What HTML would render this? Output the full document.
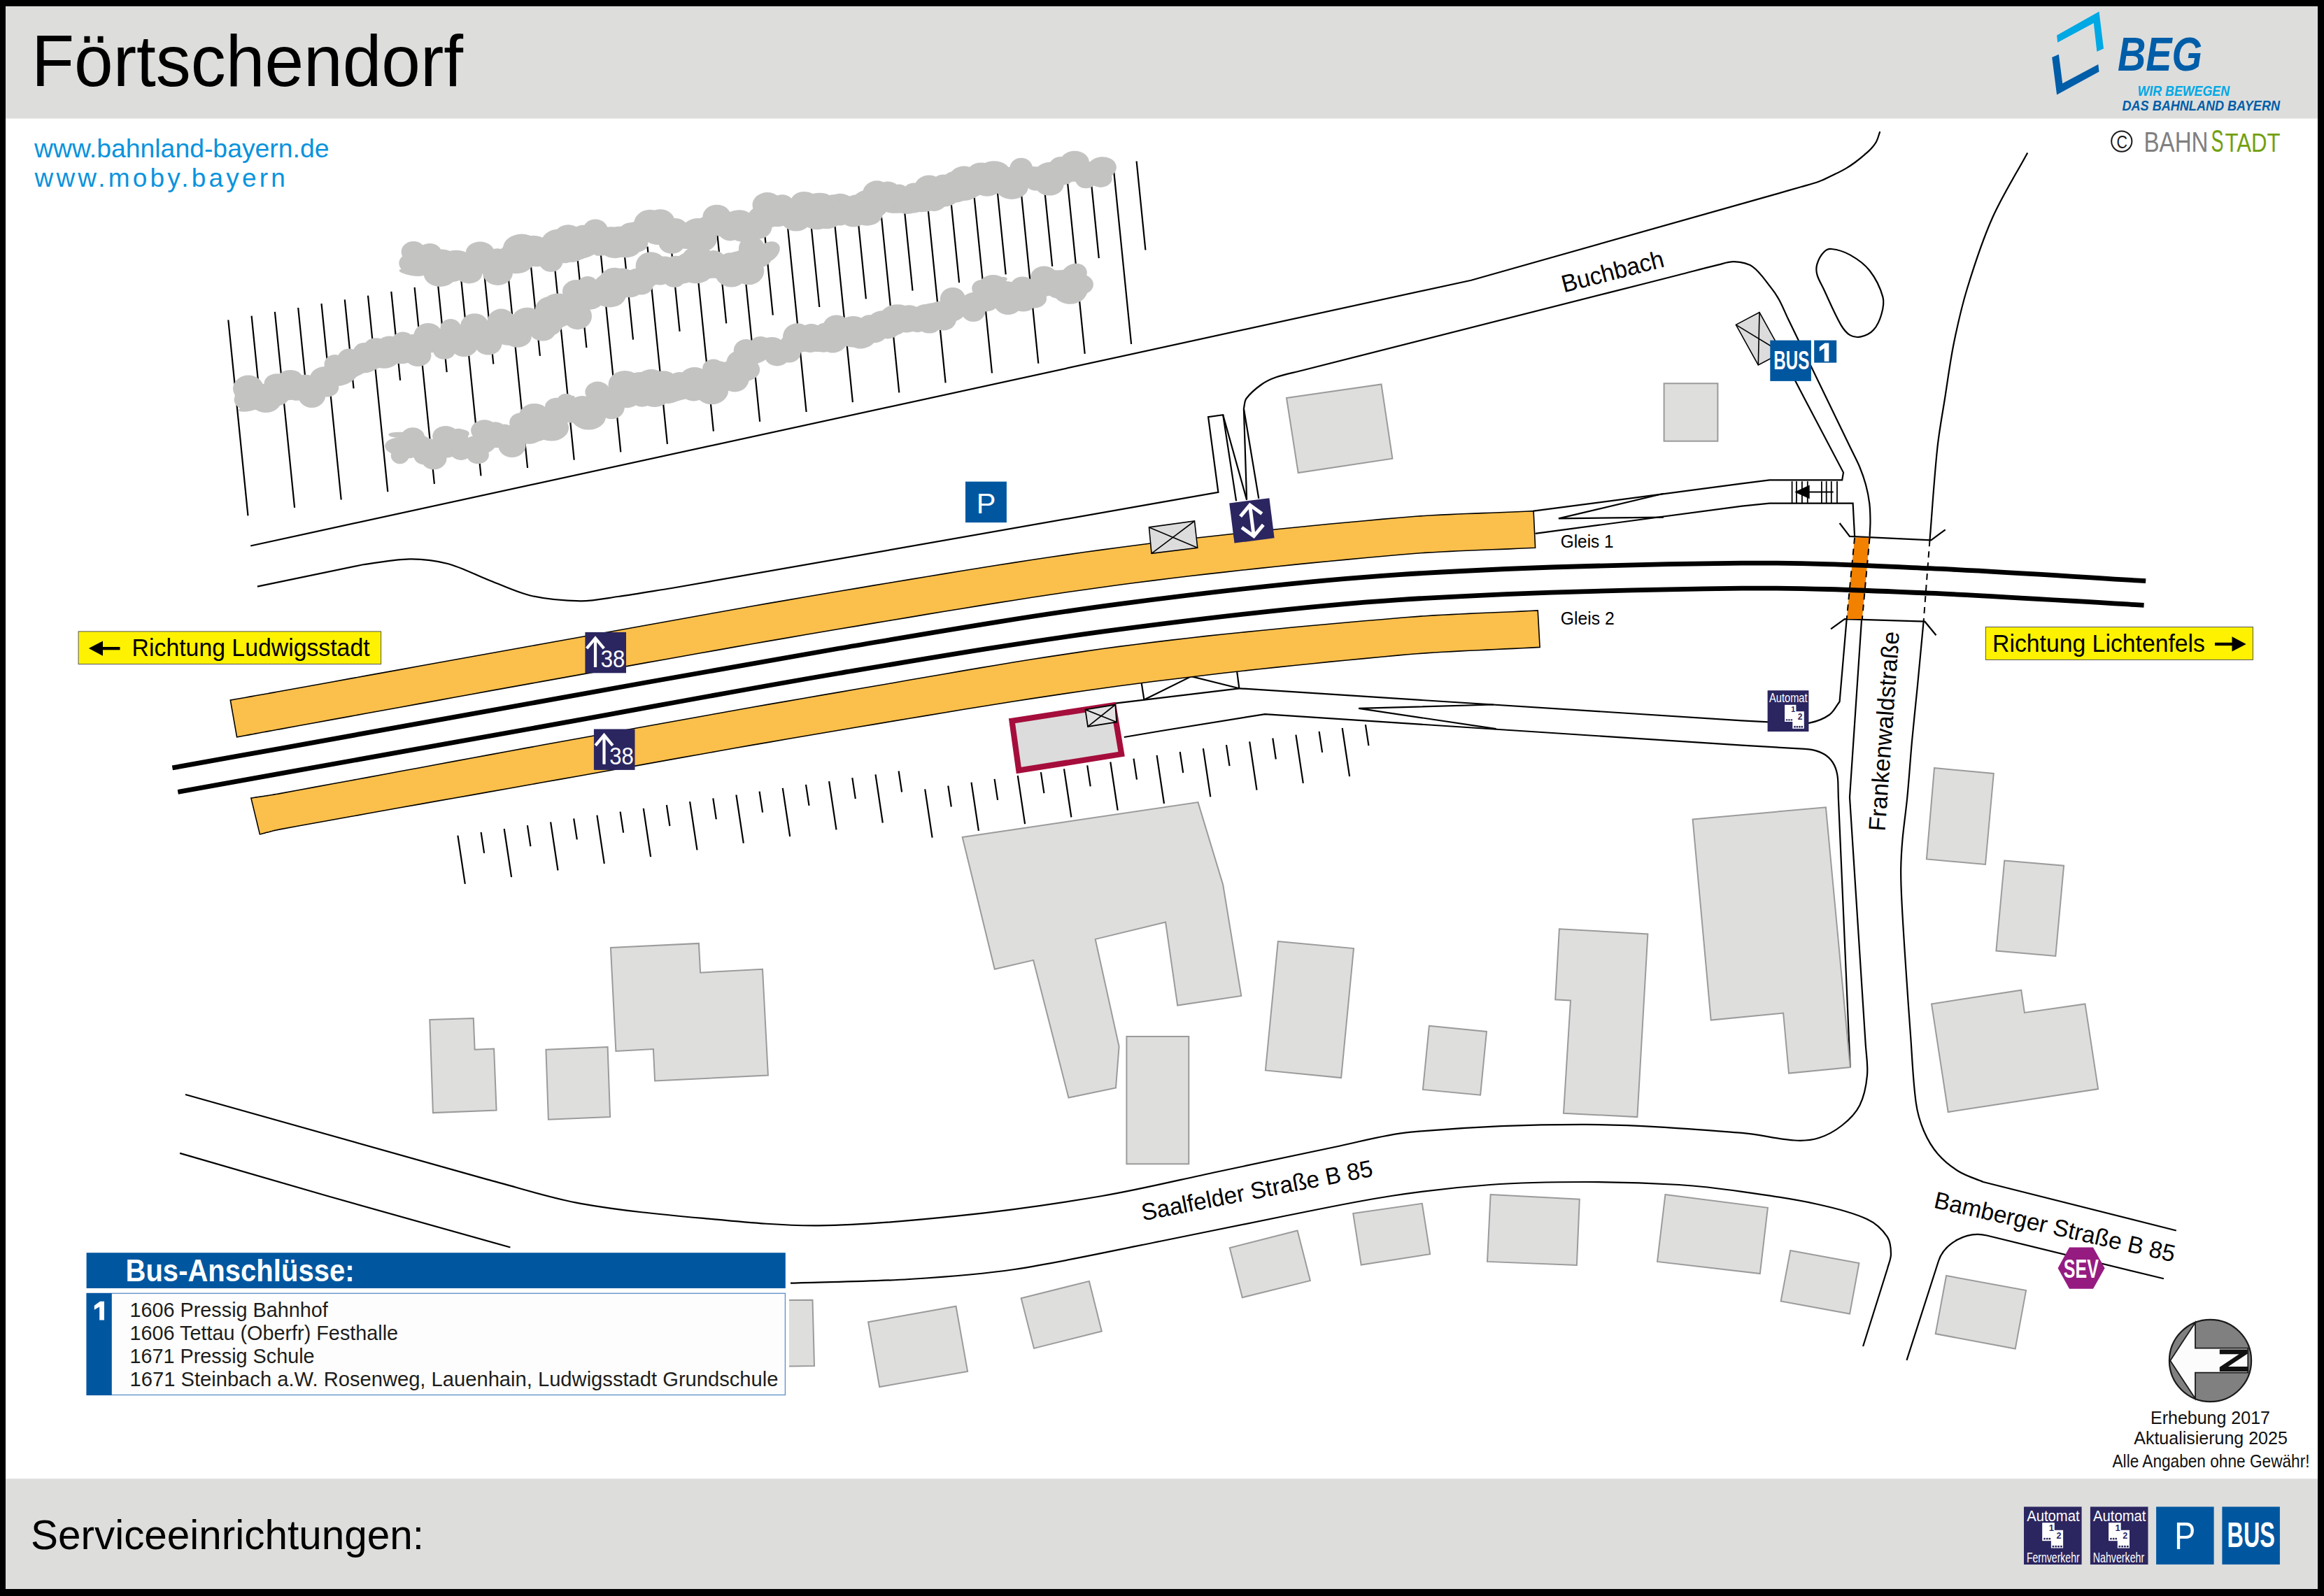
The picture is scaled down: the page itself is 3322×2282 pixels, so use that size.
<!DOCTYPE html>
<html><head><meta charset="utf-8"><title>Förtschendorf</title>
<style>
html,body{margin:0;padding:0;background:#000;width:3322px;height:2282px;overflow:hidden}
svg{display:block}
text{font-family:"Liberation Sans",sans-serif}
</style></head><body>
<svg xmlns="http://www.w3.org/2000/svg" width="3322" height="2282" viewBox="0 0 3322 2282">
<rect x="0" y="0" width="3322" height="2282" fill="#000"/>
<rect x="8" y="9" width="3305" height="2263" fill="#fff"/>
<rect x="8" y="9" width="3305" height="160.5" fill="#dddddc"/>
<rect x="8" y="2114.3" width="3305" height="157.7" fill="#dddddc"/>
<polyline points="326.3,457.5 354.5,737.3" fill="none" stroke="#000" stroke-width="2.2"/>
<polyline points="359.6,451.7 372.4,578.7" fill="none" stroke="#000" stroke-width="2.2"/>
<polyline points="392.9,445.9 421.1,725.9" fill="none" stroke="#000" stroke-width="2.2"/>
<polyline points="426.2,440 439,567" fill="none" stroke="#000" stroke-width="2.2"/>
<polyline points="459.5,434.2 487.7,714.5" fill="none" stroke="#000" stroke-width="2.2"/>
<polyline points="492.8,428.4 505.5,555.4" fill="none" stroke="#000" stroke-width="2.2"/>
<polyline points="526,422.6 554.3,703.2" fill="none" stroke="#000" stroke-width="2.2"/>
<polyline points="559.3,416.8 572.1,543.8" fill="none" stroke="#000" stroke-width="2.2"/>
<polyline points="592.6,410.9 620.9,691.8" fill="none" stroke="#000" stroke-width="2.2"/>
<polyline points="625.9,405.1 638.7,532.1" fill="none" stroke="#000" stroke-width="2.2"/>
<polyline points="659.2,399.3 687.5,680.4" fill="none" stroke="#000" stroke-width="2.2"/>
<polyline points="692.5,393.5 705.3,520.5" fill="none" stroke="#000" stroke-width="2.2"/>
<polyline points="725.8,387.7 754.1,669" fill="none" stroke="#000" stroke-width="2.2"/>
<polyline points="759.1,381.8 771.9,508.8" fill="none" stroke="#000" stroke-width="2.2"/>
<polyline points="792.4,376 820.7,657.6" fill="none" stroke="#000" stroke-width="2.2"/>
<polyline points="825.6,370.2 838.4,497.2" fill="none" stroke="#000" stroke-width="2.2"/>
<polyline points="858.9,364.4 887.3,646.3" fill="none" stroke="#000" stroke-width="2.2"/>
<polyline points="892.2,358.6 905,485.6" fill="none" stroke="#000" stroke-width="2.2"/>
<polyline points="925.5,352.7 953.9,634.9" fill="none" stroke="#000" stroke-width="2.2"/>
<polyline points="958.8,346.9 971.6,473.9" fill="none" stroke="#000" stroke-width="2.2"/>
<polyline points="992.1,341.1 1019.9,616.7" fill="none" stroke="#000" stroke-width="2.2"/>
<polyline points="1025.4,335.3 1038.2,462.3" fill="none" stroke="#000" stroke-width="2.2"/>
<polyline points="1058.7,329.5 1086.2,602.8" fill="none" stroke="#000" stroke-width="2.2"/>
<polyline points="1092,323.6 1104.8,450.6" fill="none" stroke="#000" stroke-width="2.2"/>
<polyline points="1125.3,317.8 1152.6,589" fill="none" stroke="#000" stroke-width="2.2"/>
<polyline points="1158.5,312 1171.3,439" fill="none" stroke="#000" stroke-width="2.2"/>
<polyline points="1191.8,306.2 1218.9,575.1" fill="none" stroke="#000" stroke-width="2.2"/>
<polyline points="1225.1,300.4 1237.9,427.4" fill="none" stroke="#000" stroke-width="2.2"/>
<polyline points="1258.4,294.5 1285.3,561.3" fill="none" stroke="#000" stroke-width="2.2"/>
<polyline points="1291.7,288.7 1304.5,415.7" fill="none" stroke="#000" stroke-width="2.2"/>
<polyline points="1325,282.9 1351.6,547.4" fill="none" stroke="#000" stroke-width="2.2"/>
<polyline points="1358.3,277.1 1371.1,404.1" fill="none" stroke="#000" stroke-width="2.2"/>
<polyline points="1391.6,271.3 1418,533.5" fill="none" stroke="#000" stroke-width="2.2"/>
<polyline points="1424.9,265.4 1437.7,392.4" fill="none" stroke="#000" stroke-width="2.2"/>
<polyline points="1458.2,259.6 1484.3,519.7" fill="none" stroke="#000" stroke-width="2.2"/>
<polyline points="1491.4,253.8 1504.2,380.8" fill="none" stroke="#000" stroke-width="2.2"/>
<polyline points="1524.7,248 1550.7,505.8" fill="none" stroke="#000" stroke-width="2.2"/>
<polyline points="1558,242.2 1570.8,369.2" fill="none" stroke="#000" stroke-width="2.2"/>
<polyline points="1591.3,236.3 1617.1,492" fill="none" stroke="#000" stroke-width="2.2"/>
<polyline points="1624.6,230.5 1637.4,357.5" fill="none" stroke="#000" stroke-width="2.2"/>
<g fill="#c3c3c2">
<ellipse transform="translate(589.6,376.9) rotate(4.9)" rx="19.4" ry="14.8"/>
<ellipse transform="translate(599.4,376.8) rotate(5.4)" rx="17.6" ry="13.2"/>
<ellipse transform="translate(609.5,378.3) rotate(5.8)" rx="21.4" ry="13.6"/>
<ellipse transform="translate(621.9,371.7) rotate(4.7)" rx="20.9" ry="16.3"/>
<ellipse transform="translate(631.6,372.4) rotate(2.8)" rx="22.2" ry="16"/>
<ellipse transform="translate(641.5,377.1) rotate(0.8)" rx="19" ry="13"/>
<ellipse transform="translate(651.9,371.2) rotate(0.6)" rx="22.3" ry="13.5"/>
<ellipse transform="translate(660.5,378.4) rotate(0.2)" rx="18" ry="15.8"/>
<ellipse transform="translate(670.6,377.3) rotate(-0.2)" rx="18.3" ry="13.3"/>
<ellipse transform="translate(681.2,378.5) rotate(-1.3)" rx="16.9" ry="13.5"/>
<ellipse transform="translate(692.3,376.4) rotate(-2)" rx="21.6" ry="15"/>
<ellipse transform="translate(700.5,373.1) rotate(-2.8)" rx="22" ry="13.4"/>
<ellipse transform="translate(709.5,369.7) rotate(-3.8)" rx="18.1" ry="14.3"/>
<ellipse transform="translate(717.8,369.6) rotate(-4.8)" rx="17.6" ry="14"/>
<ellipse transform="translate(729.5,373.9) rotate(-7.4)" rx="17.3" ry="14"/>
<ellipse transform="translate(740.7,375.8) rotate(-8.6)" rx="22.4" ry="15.2"/>
<ellipse transform="translate(748.4,372.4) rotate(-9.6)" rx="20" ry="13.1"/>
<ellipse transform="translate(758.9,363.2) rotate(-11)" rx="16.6" ry="16.1"/>
<ellipse transform="translate(771.9,368) rotate(-11.7)" rx="22.3" ry="12.7"/>
<ellipse transform="translate(782.1,365.1) rotate(-11.7)" rx="19.4" ry="15.4"/>
<ellipse transform="translate(791.7,359.6) rotate(-11.9)" rx="22.5" ry="12.9"/>
<ellipse transform="translate(800.6,360.1) rotate(-13.5)" rx="20.9" ry="16.1"/>
<ellipse transform="translate(809,360.2) rotate(-14.4)" rx="20.7" ry="15.7"/>
<ellipse transform="translate(819.3,359.5) rotate(-14.8)" rx="18.6" ry="15.3"/>
<ellipse transform="translate(827.2,357.2) rotate(-14.7)" rx="21.7" ry="14.2"/>
<ellipse transform="translate(835.4,353.9) rotate(-14.7)" rx="21.7" ry="14.8"/>
<ellipse transform="translate(843.6,349.8) rotate(-15.6)" rx="18.8" ry="14.9"/>
<ellipse transform="translate(851.3,347.4) rotate(-16.1)" rx="17" ry="15.1"/>
<ellipse transform="translate(861.9,348.6) rotate(-16)" rx="21.8" ry="15.4"/>
<ellipse transform="translate(869.6,339.7) rotate(-15.4)" rx="20.9" ry="14.9"/>
<ellipse transform="translate(880.7,337.3) rotate(-13.2)" rx="21.5" ry="12.9"/>
<ellipse transform="translate(891.2,338.4) rotate(-11.5)" rx="16.7" ry="14.9"/>
<ellipse transform="translate(901.1,333.6) rotate(-9.5)" rx="17.9" ry="15.3"/>
<ellipse transform="translate(911,332.6) rotate(-4.6)" rx="20.2" ry="16.2"/>
<ellipse transform="translate(921.5,329.2) rotate(-2.8)" rx="16.6" ry="13.8"/>
<ellipse transform="translate(931.5,333.4) rotate(-1.5)" rx="17.7" ry="13.3"/>
<ellipse transform="translate(940.6,335.7) rotate(-0.7)" rx="20.5" ry="14.3"/>
<ellipse transform="translate(952.6,335.5) rotate(-0.7)" rx="18.5" ry="15.2"/>
<ellipse transform="translate(964.4,327.7) rotate(-2.8)" rx="19.1" ry="15.7"/>
<ellipse transform="translate(976.2,334.8) rotate(-4.6)" rx="21.8" ry="14.1"/>
<ellipse transform="translate(986.8,330.2) rotate(-6.2)" rx="18.4" ry="13.1"/>
<ellipse transform="translate(995.8,328.1) rotate(-7.9)" rx="21.5" ry="15.9"/>
<ellipse transform="translate(1005,329.1) rotate(-8.5)" rx="22.2" ry="13.7"/>
<ellipse transform="translate(1013.2,322) rotate(-9.1)" rx="19.2" ry="13.7"/>
<ellipse transform="translate(1021.4,321.1) rotate(-9.5)" rx="19" ry="15"/>
<ellipse transform="translate(1032.8,322.2) rotate(-10.1)" rx="18.4" ry="15.9"/>
<ellipse transform="translate(1043.2,325.7) rotate(-10.2)" rx="19.2" ry="12.9"/>
<ellipse transform="translate(1052.5,313.5) rotate(-10.7)" rx="21.7" ry="12.8"/>
<ellipse transform="translate(1063.3,318.9) rotate(-11.4)" rx="19.9" ry="13.8"/>
<ellipse transform="translate(1075.1,317.4) rotate(-12)" rx="16.6" ry="13.1"/>
<ellipse transform="translate(1085.5,311.5) rotate(-12.3)" rx="16.6" ry="15.8"/>
<ellipse transform="translate(1092.8,307.5) rotate(-12.3)" rx="17.3" ry="12.8"/>
<ellipse transform="translate(1102.3,309.7) rotate(-12.2)" rx="19.2" ry="15.1"/>
<ellipse transform="translate(1113.7,307.6) rotate(-11.8)" rx="21.3" ry="16.3"/>
<ellipse transform="translate(1123.5,306) rotate(-11.1)" rx="17.7" ry="14.5"/>
<ellipse transform="translate(1134.3,298.5) rotate(-9.2)" rx="16.6" ry="14.4"/>
<ellipse transform="translate(1144.6,302.7) rotate(-8.1)" rx="17.6" ry="13.7"/>
<ellipse transform="translate(1152.3,297.6) rotate(-7.3)" rx="20.7" ry="14.6"/>
<ellipse transform="translate(1163.1,299.1) rotate(-6.6)" rx="21" ry="14.1"/>
<ellipse transform="translate(1174.3,299.8) rotate(-6.1)" rx="21.9" ry="12.9"/>
<ellipse transform="translate(1183.5,300.4) rotate(-5.6)" rx="20.8" ry="13.1"/>
<ellipse transform="translate(1191.3,294.4) rotate(-5.2)" rx="20.3" ry="16.1"/>
<ellipse transform="translate(1200.5,292.8) rotate(-4.9)" rx="19.9" ry="16"/>
<ellipse transform="translate(1212.7,296.3) rotate(-4.7)" rx="22.2" ry="14.4"/>
<ellipse transform="translate(1223.5,293.8) rotate(-4.6)" rx="17.7" ry="15.4"/>
<ellipse transform="translate(1232.1,295) rotate(-4.6)" rx="20.3" ry="15.4"/>
<ellipse transform="translate(1240.6,287.8) rotate(-3.9)" rx="21.9" ry="16.4"/>
<ellipse transform="translate(1249.5,295.6) rotate(-2.7)" rx="19.7" ry="15.7"/>
<ellipse transform="translate(1257.4,288.2) rotate(-1.9)" rx="22" ry="15.9"/>
<ellipse transform="translate(1268.6,288.2) rotate(-1.5)" rx="17" ry="14.3"/>
<ellipse transform="translate(1277.4,290.2) rotate(-1.6)" rx="21.1" ry="14.5"/>
<ellipse transform="translate(1287.4,284.2) rotate(-2)" rx="21.4" ry="12.8"/>
<ellipse transform="translate(1297.6,292) rotate(-4.1)" rx="17.5" ry="13.9"/>
<ellipse transform="translate(1306.3,291.3) rotate(-4.1)" rx="17.3" ry="13.2"/>
<ellipse transform="translate(1317,287.2) rotate(-7.9)" rx="20.8" ry="15.9"/>
<ellipse transform="translate(1325.8,287.8) rotate(-11)" rx="22.2" ry="14.5"/>
<ellipse transform="translate(1336.9,288.1) rotate(-14.4)" rx="17" ry="13.5"/>
<ellipse transform="translate(1343.9,281.2) rotate(-18.9)" rx="18.2" ry="15.4"/>
<ellipse transform="translate(1353.4,279.1) rotate(-20)" rx="19.6" ry="15.9"/>
<ellipse transform="translate(1361.4,275.2) rotate(-20)" rx="18.4" ry="14.1"/>
<ellipse transform="translate(1371,275.1) rotate(-19)" rx="21.9" ry="13.4"/>
<ellipse transform="translate(1382.1,271.8) rotate(-14.6)" rx="22.3" ry="14.6"/>
<ellipse transform="translate(1392.2,266.3) rotate(-12.8)" rx="17.7" ry="14.7"/>
<ellipse transform="translate(1401.1,263.6) rotate(-12.1)" rx="20.1" ry="12.7"/>
<ellipse transform="translate(1413.3,266.3) rotate(-10.9)" rx="19.6" ry="14.2"/>
<ellipse transform="translate(1421.6,262.8) rotate(-10.4)" rx="19.9" ry="14.5"/>
<ellipse transform="translate(1430.8,259.9) rotate(-9.9)" rx="16.9" ry="14.7"/>
<ellipse transform="translate(1441.6,255.1) rotate(-9.4)" rx="22.2" ry="16.2"/>
<ellipse transform="translate(1451.8,251.8) rotate(-8.9)" rx="19.3" ry="13.1"/>
<ellipse transform="translate(1460.4,252.3) rotate(-8.4)" rx="21.4" ry="16.1"/>
<ellipse transform="translate(1472.3,251.1) rotate(-8)" rx="18.4" ry="13.3"/>
<ellipse transform="translate(1481.2,251.5) rotate(-7.1)" rx="22.1" ry="13.1"/>
<ellipse transform="translate(1490.3,252.3) rotate(-4.9)" rx="16.6" ry="13.4"/>
<ellipse transform="translate(1500.9,245.5) rotate(-3.6)" rx="20.6" ry="13.9"/>
<ellipse transform="translate(1510.3,246.3) rotate(-3.3)" rx="20.2" ry="13"/>
<ellipse transform="translate(1519.7,249.8) rotate(-3.2)" rx="17.2" ry="14.6"/>
<ellipse transform="translate(1527.7,244.2) rotate(-3.7)" rx="17.7" ry="14.7"/>
<ellipse transform="translate(1536.2,245.6) rotate(-4.3)" rx="18.8" ry="14.2"/>
<ellipse transform="translate(1546.5,245.8) rotate(-4.9)" rx="17.5" ry="13.4"/>
<ellipse transform="translate(1555.6,246.1) rotate(-5.1)" rx="20.3" ry="14.7"/>
<ellipse transform="translate(1566.2,247.5) rotate(-5.2)" rx="20.2" ry="15.9"/>
<ellipse transform="translate(1575,240) rotate(-5.2)" rx="20.9" ry="15.8"/>
<ellipse cx="591" cy="360" rx="17.4" ry="15"/>
<ellipse cx="614.3" cy="360.7" rx="16.5" ry="12.8"/>
<ellipse cx="629.2" cy="391.3" rx="23.6" ry="18.7"/>
<ellipse cx="647" cy="389.4" rx="16.7" ry="13.6"/>
<ellipse cx="670.4" cy="391.2" rx="18.8" ry="14.2"/>
<ellipse cx="686.2" cy="360.9" rx="20.3" ry="15.4"/>
<ellipse cx="711.5" cy="389.6" rx="21.6" ry="18.4"/>
<ellipse cx="732.1" cy="363.2" rx="17.7" ry="14.9"/>
<ellipse cx="745.8" cy="354.9" rx="26.8" ry="20.3"/>
<ellipse cx="762.4" cy="356.7" rx="24.9" ry="19.9"/>
<ellipse cx="787.5" cy="373.4" rx="17" ry="15.4"/>
<ellipse cx="798.8" cy="347.8" rx="25.3" ry="20.4"/>
<ellipse cx="812.3" cy="341.4" rx="21.4" ry="20.2"/>
<ellipse cx="833.8" cy="336" rx="16.6" ry="14.2"/>
<ellipse cx="851.1" cy="330.9" rx="18.4" ry="17.4"/>
<ellipse cx="879" cy="349.6" rx="23.8" ry="19.6"/>
<ellipse cx="894.4" cy="351.6" rx="22.6" ry="16.8"/>
<ellipse cx="910.8" cy="347.8" rx="15.5" ry="12.6"/>
<ellipse cx="929.4" cy="319.7" rx="23.2" ry="19.9"/>
<ellipse cx="943.8" cy="315.9" rx="20.3" ry="16.6"/>
<ellipse cx="960.3" cy="347.2" rx="18.8" ry="15.5"/>
<ellipse cx="982" cy="341.6" rx="18" ry="14.4"/>
<ellipse cx="1005.7" cy="340.9" rx="19.3" ry="18.3"/>
<ellipse cx="1024.7" cy="310.1" rx="20.3" ry="17.3"/>
<ellipse cx="1043.6" cy="329.8" rx="17.1" ry="14.6"/>
<ellipse cx="1062.4" cy="326.5" rx="23.1" ry="19.6"/>
<ellipse cx="1084.1" cy="323.4" rx="19.5" ry="18.3"/>
<ellipse cx="1097" cy="293.1" rx="21.5" ry="18.1"/>
<ellipse cx="1118.2" cy="291.2" rx="16" ry="13"/>
<ellipse cx="1138" cy="311.4" rx="22.3" ry="19.2"/>
<ellipse cx="1149.6" cy="289.6" rx="19.7" ry="15.7"/>
<ellipse cx="1167.5" cy="310.9" rx="21.8" ry="17.4"/>
<ellipse cx="1181.7" cy="310.7" rx="22.2" ry="16.5"/>
<ellipse cx="1200.9" cy="308.6" rx="15.2" ry="14"/>
<ellipse cx="1219.9" cy="307.4" rx="20" ry="17.2"/>
<ellipse cx="1239.3" cy="304.6" rx="22.8" ry="18.1"/>
<ellipse cx="1253.4" cy="276.6" rx="20.3" ry="18.3"/>
<ellipse cx="1269.3" cy="277.1" rx="19.4" ry="17.5"/>
<ellipse cx="1285.2" cy="275.6" rx="13.6" ry="12.1"/>
<ellipse cx="1306.7" cy="274.4" rx="15.6" ry="12.9"/>
<ellipse cx="1328" cy="270.2" rx="21.6" ry="19.7"/>
<ellipse cx="1349.1" cy="264.5" rx="18.1" ry="15.1"/>
<ellipse cx="1364.1" cy="261.3" rx="17.6" ry="16.2"/>
<ellipse cx="1378" cy="253.4" rx="20.4" ry="15.8"/>
<ellipse cx="1402.3" cy="250.7" rx="21.3" ry="18.3"/>
<ellipse cx="1420.9" cy="247.7" rx="23.6" ry="17.5"/>
<ellipse cx="1446.2" cy="266.6" rx="23.8" ry="18.4"/>
<ellipse cx="1459.7" cy="240.8" rx="16.3" ry="15.1"/>
<ellipse cx="1481.1" cy="259.9" rx="15.5" ry="12.7"/>
<ellipse cx="1500.1" cy="263.7" rx="20.6" ry="15.9"/>
<ellipse cx="1516.7" cy="237.9" rx="17.2" ry="13.8"/>
<ellipse cx="1536.2" cy="232" rx="20.7" ry="16.2"/>
<ellipse cx="1552.3" cy="256.1" rx="15.3" ry="13.2"/>
<ellipse cx="1573.3" cy="254.9" rx="16.4" ry="13"/>
<ellipse transform="translate(588.5,389.7) rotate(9.5)" rx="18.1" ry="4.3"/>
<ellipse transform="translate(716.2,385.2) rotate(-1.2)" rx="18.7" ry="6.4"/>
<ellipse transform="translate(869.7,358) rotate(-15.2)" rx="20.7" ry="5.7"/>
<ellipse transform="translate(1017,313.6) rotate(-10.5)" rx="20.8" ry="6.4"/>
<ellipse transform="translate(1167.7,282.9) rotate(-5.8)" rx="18.5" ry="6.9"/>
<ellipse transform="translate(1284.4,300.4) rotate(-1.1)" rx="20.3" ry="4.3"/>
<ellipse transform="translate(1422.1,246.7) rotate(-18.3)" rx="16.5" ry="4.1"/>
<ellipse transform="translate(1527.2,235.6) rotate(2.6)" rx="17.4" ry="6.1"/>
<ellipse transform="translate(356.5,570.6) rotate(-5.7)" rx="21.9" ry="16"/>
<ellipse transform="translate(366.3,569.4) rotate(-5.1)" rx="19.2" ry="13.6"/>
<ellipse transform="translate(377.4,563.1) rotate(-6.4)" rx="21.7" ry="14.2"/>
<ellipse transform="translate(387.2,565.6) rotate(-8.3)" rx="17.4" ry="16.1"/>
<ellipse transform="translate(397,564.6) rotate(-8.9)" rx="17.3" ry="15.5"/>
<ellipse transform="translate(406,561) rotate(-10.1)" rx="19.6" ry="12.8"/>
<ellipse transform="translate(416.9,558.2) rotate(-13.1)" rx="17.6" ry="13.4"/>
<ellipse transform="translate(427,559.3) rotate(-16.3)" rx="17.4" ry="13.1"/>
<ellipse transform="translate(433.5,551.1) rotate(-17)" rx="20.2" ry="14.7"/>
<ellipse transform="translate(444.8,553.5) rotate(-18.3)" rx="20.7" ry="12.9"/>
<ellipse transform="translate(454.9,548.4) rotate(-19.4)" rx="19.8" ry="14.6"/>
<ellipse transform="translate(460,538.2) rotate(-20.4)" rx="17.6" ry="13.4"/>
<ellipse transform="translate(472.4,541.2) rotate(-21.7)" rx="21.2" ry="14.3"/>
<ellipse transform="translate(477.1,531.6) rotate(-24)" rx="19" ry="14.5"/>
<ellipse transform="translate(491.2,536) rotate(-25.1)" rx="22.3" ry="13.8"/>
<ellipse transform="translate(499.6,525.6) rotate(-24.2)" rx="19.8" ry="16.5"/>
<ellipse transform="translate(509.3,524.5) rotate(-22)" rx="16.9" ry="12.9"/>
<ellipse transform="translate(514.8,516.3) rotate(-20.5)" rx="20.5" ry="15.2"/>
<ellipse transform="translate(526,519.2) rotate(-20.1)" rx="21.2" ry="13.1"/>
<ellipse transform="translate(532.7,513.3) rotate(-19.2)" rx="21.7" ry="15.4"/>
<ellipse transform="translate(542.2,510.4) rotate(-18.4)" rx="18.3" ry="13"/>
<ellipse transform="translate(552.8,510.3) rotate(-17.7)" rx="21.6" ry="15.9"/>
<ellipse transform="translate(560.4,507.4) rotate(-17.4)" rx="21.9" ry="13.2"/>
<ellipse transform="translate(569.1,503.7) rotate(-15.9)" rx="22.1" ry="15.5"/>
<ellipse transform="translate(577.7,505) rotate(-15)" rx="21" ry="14.8"/>
<ellipse transform="translate(583.5,493.7) rotate(-14.6)" rx="17.6" ry="14.1"/>
<ellipse transform="translate(595,491.1) rotate(-13.6)" rx="18.4" ry="13.7"/>
<ellipse transform="translate(607.2,492.3) rotate(-12.5)" rx="20.3" ry="14.3"/>
<ellipse transform="translate(615.8,489.4) rotate(-11.8)" rx="17.1" ry="15"/>
<ellipse transform="translate(623.8,485) rotate(-11.6)" rx="20.3" ry="13.3"/>
<ellipse transform="translate(634.3,483.6) rotate(-11.1)" rx="16.7" ry="14.4"/>
<ellipse transform="translate(645.9,487) rotate(-10.7)" rx="17.1" ry="12.7"/>
<ellipse transform="translate(655.5,488.3) rotate(-10.2)" rx="19.1" ry="15.6"/>
<ellipse transform="translate(663.7,479.8) rotate(-9.8)" rx="21.4" ry="16.2"/>
<ellipse transform="translate(673.3,476) rotate(-9.4)" rx="17.7" ry="13.2"/>
<ellipse transform="translate(683.3,480.4) rotate(-9.1)" rx="19.4" ry="16.2"/>
<ellipse transform="translate(694.5,477.9) rotate(-8.5)" rx="20.9" ry="15"/>
<ellipse transform="translate(703.9,473.3) rotate(-7.6)" rx="21.2" ry="13.6"/>
<ellipse transform="translate(715.6,479) rotate(-7.4)" rx="19.7" ry="13.6"/>
<ellipse transform="translate(723.6,469.2) rotate(-8)" rx="18.3" ry="14.3"/>
<ellipse transform="translate(732.7,471.9) rotate(-9.2)" rx="17.7" ry="13.9"/>
<ellipse transform="translate(743.7,467) rotate(-10.4)" rx="17.1" ry="15.4"/>
<ellipse transform="translate(755.1,464.5) rotate(-10.7)" rx="19.7" ry="13.8"/>
<ellipse transform="translate(765.6,462.1) rotate(-14.1)" rx="20.2" ry="14.6"/>
<ellipse transform="translate(774.4,463.5) rotate(-18.1)" rx="17.7" ry="16.2"/>
<ellipse transform="translate(785.6,464.3) rotate(-23.3)" rx="20.7" ry="16.3"/>
<ellipse transform="translate(793.9,455.2) rotate(-27.5)" rx="16.7" ry="15.2"/>
<ellipse transform="translate(803.1,452.6) rotate(-30.4)" rx="17.3" ry="14.5"/>
<ellipse transform="translate(808.7,444.7) rotate(-32)" rx="18.5" ry="13"/>
<ellipse transform="translate(819.3,443.8) rotate(-32.3)" rx="18.1" ry="16"/>
<ellipse transform="translate(825.6,434.4) rotate(-33)" rx="20.9" ry="13.5"/>
<ellipse transform="translate(834.9,429.6) rotate(-36.4)" rx="19.8" ry="12.8"/>
<ellipse transform="translate(845.1,426.6) rotate(-37)" rx="17.5" ry="15.5"/>
<ellipse transform="translate(852.9,420.5) rotate(-36)" rx="18.5" ry="13.2"/>
<ellipse transform="translate(861,415.5) rotate(-32)" rx="16.5" ry="15.3"/>
<ellipse transform="translate(867.9,404.5) rotate(-24.9)" rx="21" ry="14"/>
<ellipse transform="translate(876.4,398.8) rotate(-16)" rx="20.1" ry="15.8"/>
<ellipse transform="translate(888.7,399.2) rotate(-9.7)" rx="18.9" ry="15.7"/>
<ellipse transform="translate(900.9,402.7) rotate(-6.3)" rx="22.5" ry="13.1"/>
<ellipse transform="translate(911.2,399.8) rotate(-6.2)" rx="21.6" ry="16.1"/>
<ellipse transform="translate(922.7,396.9) rotate(-8)" rx="20.3" ry="15.6"/>
<ellipse transform="translate(932.2,390.7) rotate(-7)" rx="19" ry="12.7"/>
<ellipse transform="translate(944,393.3) rotate(-6.4)" rx="17.2" ry="14.2"/>
<ellipse transform="translate(953.7,390.1) rotate(-6.6)" rx="17.3" ry="13.6"/>
<ellipse transform="translate(964,395.3) rotate(-7.6)" rx="16.8" ry="15.7"/>
<ellipse transform="translate(975.5,391.5) rotate(-7.7)" rx="21.2" ry="14.2"/>
<ellipse transform="translate(985.7,387.6) rotate(-8)" rx="17.1" ry="13.9"/>
<ellipse transform="translate(997.3,390.3) rotate(-8.6)" rx="22" ry="14.8"/>
<ellipse transform="translate(1004.8,383.8) rotate(-8.8)" rx="18.2" ry="16.1"/>
<ellipse transform="translate(1016.2,382.6) rotate(-9.1)" rx="21.9" ry="15.3"/>
<ellipse transform="translate(1026.3,384.9) rotate(-9.3)" rx="17.2" ry="13"/>
<ellipse transform="translate(1035.3,384.6) rotate(-10.2)" rx="18.5" ry="14.6"/>
<ellipse transform="translate(1042.7,377.5) rotate(-11.7)" rx="16.6" ry="16.1"/>
<ellipse transform="translate(1053.2,373.7) rotate(-15.1)" rx="20.2" ry="14.3"/>
<ellipse transform="translate(1064.6,371) rotate(-20)" rx="18.4" ry="15.7"/>
<ellipse transform="translate(1077.1,371.9) rotate(-24.1)" rx="21.8" ry="13.6"/>
<ellipse transform="translate(1087.3,366) rotate(-33.9)" rx="18" ry="16"/>
<ellipse transform="translate(1097.2,360.7) rotate(-34.4)" rx="19.4" ry="13"/>
<ellipse cx="355" cy="555.6" rx="22" ry="19"/>
<ellipse cx="380" cy="572.8" rx="21.8" ry="17.3"/>
<ellipse cx="396.2" cy="548.2" rx="18.7" ry="14"/>
<ellipse cx="415" cy="543.6" rx="18.9" ry="14.6"/>
<ellipse cx="445.7" cy="565.1" rx="19.6" ry="18"/>
<ellipse cx="466.6" cy="554.2" rx="17.6" ry="13.4"/>
<ellipse cx="478.6" cy="520.7" rx="15.1" ry="13.7"/>
<ellipse cx="498.9" cy="513.1" rx="16.4" ry="14.5"/>
<ellipse cx="520.5" cy="504" rx="15.9" ry="13.9"/>
<ellipse cx="537.4" cy="497.6" rx="17.8" ry="14.3"/>
<ellipse cx="556.7" cy="493" rx="16.8" ry="12.6"/>
<ellipse cx="575.8" cy="486.9" rx="15.2" ry="12.4"/>
<ellipse cx="597.4" cy="508.3" rx="19" ry="15.6"/>
<ellipse cx="612" cy="480.2" rx="20.6" ry="18.3"/>
<ellipse cx="635" cy="501.6" rx="15.8" ry="12.2"/>
<ellipse cx="644.1" cy="468.4" rx="14.6" ry="12.3"/>
<ellipse cx="663.2" cy="490.8" rx="20.8" ry="19.5"/>
<ellipse cx="678.5" cy="465.7" rx="20.2" ry="17.4"/>
<ellipse cx="697.9" cy="491.1" rx="19.6" ry="16.3"/>
<ellipse cx="716.5" cy="460" rx="20" ry="18.5"/>
<ellipse cx="739.7" cy="481" rx="20.1" ry="15.7"/>
<ellipse cx="754" cy="456.3" rx="21.6" ry="16.6"/>
<ellipse cx="775.6" cy="473.7" rx="18.4" ry="13.7"/>
<ellipse cx="786.1" cy="443.4" rx="21.3" ry="19.3"/>
<ellipse cx="797.6" cy="436.6" rx="22.1" ry="17.1"/>
<ellipse cx="825.7" cy="452" rx="20.3" ry="19.2"/>
<ellipse cx="824.3" cy="416.8" rx="20.4" ry="16.8"/>
<ellipse cx="840.1" cy="407.6" rx="14.7" ry="12.5"/>
<ellipse cx="871.6" cy="421.3" rx="23.4" ry="18.2"/>
<ellipse cx="881.1" cy="411.3" rx="20.8" ry="18.9"/>
<ellipse cx="900.1" cy="409.1" rx="20.2" ry="16.2"/>
<ellipse cx="916.4" cy="406" rx="17.9" ry="15.4"/>
<ellipse cx="930.4" cy="380.2" rx="21.8" ry="20"/>
<ellipse cx="949.4" cy="382.3" rx="20.2" ry="15.8"/>
<ellipse cx="966.3" cy="381.2" rx="18.6" ry="15.4"/>
<ellipse cx="983" cy="376" rx="17.1" ry="14.5"/>
<ellipse cx="997.5" cy="369.5" rx="22.4" ry="17.7"/>
<ellipse cx="1019.6" cy="371.1" rx="17" ry="13"/>
<ellipse cx="1045.3" cy="390.6" rx="23" ry="19.8"/>
<ellipse cx="1070.3" cy="387.5" rx="22" ry="19.8"/>
<ellipse cx="1074.5" cy="355.3" rx="18.6" ry="17.5"/>
<ellipse transform="translate(357.7,583.4) rotate(-11.4)" rx="17" ry="4.1"/>
<ellipse transform="translate(465.2,555.8) rotate(-26.7)" rx="18.4" ry="4.5"/>
<ellipse transform="translate(584.5,484.2) rotate(-12.4)" rx="20.1" ry="5.4"/>
<ellipse transform="translate(737.4,488.7) rotate(-5.6)" rx="20.9" ry="4.6"/>
<ellipse transform="translate(856.4,429.6) rotate(-45.1)" rx="16.2" ry="6.8"/>
<ellipse transform="translate(991.7,372.3) rotate(-3.5)" rx="18.1" ry="5.7"/>
<ellipse transform="translate(572.1,638.3) rotate(1.8)" rx="21.9" ry="12.7"/>
<ellipse transform="translate(582.5,642.6) rotate(2.4)" rx="17.8" ry="12.9"/>
<ellipse transform="translate(591.6,635.9) rotate(2.1)" rx="19.8" ry="15"/>
<ellipse transform="translate(599.9,636.3) rotate(1)" rx="16.9" ry="14.4"/>
<ellipse transform="translate(608.1,640.5) rotate(-0.9)" rx="22.3" ry="14.1"/>
<ellipse transform="translate(619.1,644) rotate(-1.7)" rx="20.6" ry="13.7"/>
<ellipse transform="translate(630.1,640.3) rotate(-2.4)" rx="19.3" ry="12.7"/>
<ellipse transform="translate(638.7,641) rotate(-3.5)" rx="18.1" ry="13.6"/>
<ellipse transform="translate(647.3,636.2) rotate(-5)" rx="19.6" ry="16.2"/>
<ellipse transform="translate(659.5,643.2) rotate(-6.9)" rx="16.5" ry="14.7"/>
<ellipse transform="translate(667.9,640.7) rotate(-9.1)" rx="21.1" ry="12.9"/>
<ellipse transform="translate(679.7,638.3) rotate(-10.9)" rx="21.8" ry="15.3"/>
<ellipse transform="translate(690.9,635.7) rotate(-12.2)" rx="18.1" ry="13"/>
<ellipse transform="translate(698.6,625.3) rotate(-13)" rx="21.3" ry="13.4"/>
<ellipse transform="translate(710.6,626.7) rotate(-13)" rx="17.4" ry="13.3"/>
<ellipse transform="translate(719.3,622.1) rotate(-13.1)" rx="18.5" ry="15.3"/>
<ellipse transform="translate(729.7,626.8) rotate(-13.9)" rx="18.3" ry="14.2"/>
<ellipse transform="translate(739.6,619.2) rotate(-16.8)" rx="20.5" ry="14.5"/>
<ellipse transform="translate(750.7,618.8) rotate(-19.7)" rx="18.7" ry="15.4"/>
<ellipse transform="translate(760.6,617.9) rotate(-23.9)" rx="20.9" ry="16"/>
<ellipse transform="translate(770.5,613.9) rotate(-27.7)" rx="21.4" ry="16.1"/>
<ellipse transform="translate(775.9,602.7) rotate(-27.9)" rx="21.6" ry="14.6"/>
<ellipse transform="translate(785.5,602.3) rotate(-26.5)" rx="16.7" ry="15"/>
<ellipse transform="translate(793.5,595.5) rotate(-22.6)" rx="19.4" ry="13.9"/>
<ellipse transform="translate(801.4,592.3) rotate(-20)" rx="20.9" ry="15.3"/>
<ellipse transform="translate(809.1,587.8) rotate(-20.2)" rx="20.3" ry="14"/>
<ellipse transform="translate(819.8,588.7) rotate(-21.4)" rx="17.6" ry="15.9"/>
<ellipse transform="translate(827.1,580.3) rotate(-21.8)" rx="19.9" ry="13.1"/>
<ellipse transform="translate(840.2,584.1) rotate(-21)" rx="20.3" ry="13.1"/>
<ellipse transform="translate(848.6,578.2) rotate(-19.1)" rx="18.1" ry="13.2"/>
<ellipse transform="translate(856.6,569.6) rotate(-15.9)" rx="20.2" ry="13.7"/>
<ellipse transform="translate(866.8,572.1) rotate(-11.9)" rx="22.3" ry="14.4"/>
<ellipse transform="translate(876.4,570.8) rotate(-8.9)" rx="21.2" ry="16.2"/>
<ellipse transform="translate(885.2,565) rotate(-6.7)" rx="18.1" ry="13.6"/>
<ellipse transform="translate(897.2,568) rotate(-6.8)" rx="18.8" ry="15.2"/>
<ellipse transform="translate(907.8,560.9) rotate(-6.8)" rx="17.4" ry="16.5"/>
<ellipse transform="translate(918.7,567.6) rotate(-6.2)" rx="17.7" ry="14"/>
<ellipse transform="translate(928.1,563) rotate(-6.1)" rx="21.3" ry="14.2"/>
<ellipse transform="translate(937,566) rotate(-6.5)" rx="21.5" ry="15.9"/>
<ellipse transform="translate(946.1,556.9) rotate(-7.3)" rx="16.9" ry="14.3"/>
<ellipse transform="translate(956.3,563.3) rotate(-6.2)" rx="20.4" ry="13.5"/>
<ellipse transform="translate(964.5,560.8) rotate(-5.9)" rx="18.9" ry="13.2"/>
<ellipse transform="translate(973.8,558.2) rotate(-7.3)" rx="20.5" ry="13.4"/>
<ellipse transform="translate(983.6,553.4) rotate(-10.6)" rx="21.7" ry="14.3"/>
<ellipse transform="translate(993.3,557.1) rotate(-15.8)" rx="19.8" ry="16.1"/>
<ellipse transform="translate(1004.6,553.3) rotate(-24)" rx="19.1" ry="13.2"/>
<ellipse transform="translate(1014.7,548.3) rotate(-28.6)" rx="18.1" ry="14.8"/>
<ellipse transform="translate(1020.2,537.7) rotate(-29.6)" rx="18.9" ry="13.9"/>
<ellipse transform="translate(1026.2,531.9) rotate(-29.2)" rx="17.7" ry="14.8"/>
<ellipse transform="translate(1038.2,530.6) rotate(-34.4)" rx="17.4" ry="12.6"/>
<ellipse transform="translate(1048.4,526.3) rotate(-32.4)" rx="20.5" ry="12.6"/>
<ellipse transform="translate(1055.4,517.2) rotate(-26.6)" rx="17.3" ry="15.7"/>
<ellipse transform="translate(1066,519.9) rotate(-26.1)" rx="19" ry="12.7"/>
<ellipse transform="translate(1073.3,508.7) rotate(-24.8)" rx="19.9" ry="14.8"/>
<ellipse transform="translate(1082.1,503.2) rotate(-22.6)" rx="20.2" ry="15.8"/>
<ellipse transform="translate(1091.2,500.1) rotate(-19.6)" rx="17.6" ry="13.7"/>
<ellipse transform="translate(1099.4,497.4) rotate(-15.1)" rx="21.3" ry="14.8"/>
<ellipse transform="translate(1111.7,502.2) rotate(-9.9)" rx="16.8" ry="15.9"/>
<ellipse transform="translate(1120.9,501) rotate(-6.9)" rx="19.7" ry="15.2"/>
<ellipse transform="translate(1131.1,492.5) rotate(-6.6)" rx="16.6" ry="14.8"/>
<ellipse transform="translate(1139.6,489.1) rotate(-9.1)" rx="19.3" ry="16.1"/>
<ellipse transform="translate(1150.5,487.2) rotate(-11.1)" rx="18.7" ry="15.6"/>
<ellipse transform="translate(1159.2,487.6) rotate(-11.9)" rx="18" ry="16.2"/>
<ellipse transform="translate(1169.4,488) rotate(-12)" rx="18.3" ry="14.7"/>
<ellipse transform="translate(1179.5,487.8) rotate(-11.3)" rx="21.3" ry="15.6"/>
<ellipse transform="translate(1191.5,488.5) rotate(-9)" rx="19.4" ry="15.9"/>
<ellipse transform="translate(1199.6,481.6) rotate(-7.5)" rx="21.9" ry="15"/>
<ellipse transform="translate(1209.9,475.9) rotate(-6.8)" rx="17.3" ry="13.9"/>
<ellipse transform="translate(1219.6,482.6) rotate(-6.9)" rx="19.5" ry="13.7"/>
<ellipse transform="translate(1231.7,483.9) rotate(-8.4)" rx="20.3" ry="14.4"/>
<ellipse transform="translate(1239.3,475.3) rotate(-8.4)" rx="16.9" ry="15.1"/>
<ellipse transform="translate(1250.7,476.7) rotate(-8.5)" rx="18.1" ry="13.4"/>
<ellipse transform="translate(1259.3,470.8) rotate(-9.5)" rx="16.8" ry="13.1"/>
<ellipse transform="translate(1270.1,470.2) rotate(-11.3)" rx="17.7" ry="14"/>
<ellipse transform="translate(1279.3,466.3) rotate(-15.8)" rx="18.7" ry="13.3"/>
<ellipse transform="translate(1289.2,461.8) rotate(-18.7)" rx="18.9" ry="12.8"/>
<ellipse transform="translate(1300.2,458.7) rotate(-20.5)" rx="22.2" ry="15.9"/>
<ellipse transform="translate(1313.3,461.3) rotate(-21.5)" rx="16.6" ry="13.3"/>
<ellipse transform="translate(1319.8,450.7) rotate(-20.9)" rx="20" ry="14.9"/>
<ellipse transform="translate(1329.2,450.1) rotate(-21.5)" rx="19.3" ry="16.3"/>
<ellipse transform="translate(1340.5,447.6) rotate(-22.2)" rx="21.2" ry="16.1"/>
<ellipse transform="translate(1350.3,447.3) rotate(-21.8)" rx="16.9" ry="14.1"/>
<ellipse transform="translate(1361.5,444.3) rotate(-19.8)" rx="21.8" ry="15.6"/>
<ellipse transform="translate(1371.1,436.9) rotate(-15.5)" rx="16.6" ry="15.4"/>
<ellipse transform="translate(1379.7,436.1) rotate(-15)" rx="22" ry="12.8"/>
<ellipse transform="translate(1390.8,432.4) rotate(-16.5)" rx="18.6" ry="14.3"/>
<ellipse transform="translate(1402.2,430.1) rotate(-16.8)" rx="19" ry="16.4"/>
<ellipse transform="translate(1411.6,429.7) rotate(-16.4)" rx="17.2" ry="15.5"/>
<ellipse transform="translate(1420.1,425.2) rotate(-15.3)" rx="19.1" ry="14.4"/>
<ellipse transform="translate(1431.3,423.4) rotate(-12.5)" rx="19.5" ry="14.1"/>
<ellipse transform="translate(1439.6,418.4) rotate(-10.5)" rx="16.8" ry="16.2"/>
<ellipse transform="translate(1450.2,416.4) rotate(-9.4)" rx="19.2" ry="13.7"/>
<ellipse transform="translate(1460.8,409.4) rotate(-9.6)" rx="16.8" ry="13.9"/>
<ellipse transform="translate(1469.8,413.2) rotate(-10.1)" rx="18.5" ry="13.6"/>
<ellipse transform="translate(1478,412.6) rotate(-11.3)" rx="17.6" ry="14.4"/>
<ellipse transform="translate(1487,410) rotate(-11.5)" rx="16.8" ry="16.4"/>
<ellipse transform="translate(1496.7,410.2) rotate(-12)" rx="21.9" ry="13"/>
<ellipse transform="translate(1504.4,402.2) rotate(-12.6)" rx="22" ry="15.7"/>
<ellipse transform="translate(1515.2,399.2) rotate(-14)" rx="17.2" ry="13"/>
<ellipse transform="translate(1526.4,397.4) rotate(-17.1)" rx="18.1" ry="13.3"/>
<ellipse transform="translate(1535.6,391.9) rotate(-18.9)" rx="18.6" ry="14.6"/>
<ellipse cx="571.7" cy="651.3" rx="12.9" ry="12.1"/>
<ellipse cx="590.1" cy="626.2" rx="17.2" ry="15"/>
<ellipse cx="605.5" cy="651.6" rx="14.2" ry="12.6"/>
<ellipse cx="620.1" cy="655.9" rx="18.3" ry="15.4"/>
<ellipse cx="637" cy="623.9" rx="18.8" ry="14.9"/>
<ellipse cx="655.2" cy="625.8" rx="14.1" ry="13"/>
<ellipse cx="683.1" cy="650.5" rx="15.8" ry="12.7"/>
<ellipse cx="692.5" cy="615.6" rx="19.4" ry="15.3"/>
<ellipse cx="708" cy="615.8" rx="14.7" ry="12.5"/>
<ellipse cx="731.9" cy="636.6" rx="19.8" ry="17.5"/>
<ellipse cx="744.7" cy="604.3" rx="16.5" ry="14.1"/>
<ellipse cx="763.9" cy="596.2" rx="22.5" ry="19.3"/>
<ellipse cx="788.3" cy="611.7" rx="24.7" ry="18.9"/>
<ellipse cx="795.9" cy="581.5" rx="16.9" ry="12.8"/>
<ellipse cx="808.9" cy="574.8" rx="12.9" ry="12.1"/>
<ellipse cx="841.3" cy="595.7" rx="24.7" ry="18.9"/>
<ellipse cx="854.3" cy="560.6" rx="17.9" ry="15"/>
<ellipse cx="874.2" cy="581.8" rx="18.7" ry="17.5"/>
<ellipse cx="893.3" cy="550.2" rx="23.8" ry="20.3"/>
<ellipse cx="915.7" cy="549.9" rx="24.1" ry="17.9"/>
<ellipse cx="931.1" cy="545.6" rx="22.5" ry="17.5"/>
<ellipse cx="948.5" cy="547.2" rx="20.3" ry="16.9"/>
<ellipse cx="971.6" cy="544.7" rx="16.5" ry="12.8"/>
<ellipse cx="992.9" cy="542.6" rx="21.6" ry="17.5"/>
<ellipse cx="1017.3" cy="558.1" rx="24" ry="20.1"/>
<ellipse cx="1019.6" cy="526.8" rx="15.5" ry="13.3"/>
<ellipse cx="1050.2" cy="541.1" rx="20.6" ry="19.5"/>
<ellipse cx="1063.8" cy="528.5" rx="22.4" ry="16.7"/>
<ellipse cx="1066.4" cy="501.3" rx="17.7" ry="16.3"/>
<ellipse cx="1087.1" cy="493.8" rx="15.3" ry="12.7"/>
<ellipse cx="1110.8" cy="509.4" rx="17.3" ry="14.1"/>
<ellipse cx="1128" cy="504.8" rx="16.4" ry="13.8"/>
<ellipse cx="1139.8" cy="481.3" rx="20.7" ry="19.1"/>
<ellipse cx="1159.8" cy="479.8" rx="18.4" ry="16.7"/>
<ellipse cx="1178.5" cy="473.8" rx="13.3" ry="12.1"/>
<ellipse cx="1195.7" cy="468.5" rx="19.7" ry="18"/>
<ellipse cx="1219.6" cy="468" rx="21.4" ry="16.1"/>
<ellipse cx="1242.8" cy="464.8" rx="16.2" ry="14.5"/>
<ellipse cx="1261.4" cy="459.8" rx="20.5" ry="15.5"/>
<ellipse cx="1283" cy="454.6" rx="25.9" ry="19.4"/>
<ellipse cx="1299.6" cy="450.8" rx="18.5" ry="14.5"/>
<ellipse cx="1328.4" cy="463.9" rx="16.4" ry="12.7"/>
<ellipse cx="1348.5" cy="456.9" rx="18.5" ry="15.6"/>
<ellipse cx="1361.9" cy="427.5" rx="18.1" ry="16.5"/>
<ellipse cx="1391.4" cy="444.6" rx="17.2" ry="15.4"/>
<ellipse cx="1403.4" cy="412.3" rx="14.2" ry="12.3"/>
<ellipse cx="1419.7" cy="409.3" rx="20.9" ry="16.4"/>
<ellipse cx="1441" cy="430" rx="21.2" ry="20.1"/>
<ellipse cx="1462.6" cy="430.5" rx="18.5" ry="15.1"/>
<ellipse cx="1478.4" cy="426.8" rx="17.6" ry="13.8"/>
<ellipse cx="1492.5" cy="396.7" rx="19.5" ry="16.2"/>
<ellipse cx="1511" cy="413.8" rx="14.4" ry="12.8"/>
<ellipse cx="1529.6" cy="414.9" rx="24.8" ry="19.9"/>
<ellipse cx="1544.8" cy="406.7" rx="18.1" ry="14.4"/>
<ellipse transform="translate(572.6,622) rotate(1.6)" rx="17.2" ry="4.3"/>
<ellipse transform="translate(656.6,620.8) rotate(-4.1)" rx="14.2" ry="6.8"/>
<ellipse transform="translate(804.1,576.7) rotate(-29.8)" rx="19.9" ry="5.3"/>
<ellipse transform="translate(950,548.1) rotate(-15.3)" rx="19.5" ry="4.4"/>
<ellipse transform="translate(1057,536) rotate(-24.5)" rx="17.6" ry="6.7"/>
<ellipse transform="translate(1145.7,475.8) rotate(-2)" rx="16.8" ry="6.5"/>
<ellipse transform="translate(1286.9,451.4) rotate(-20.7)" rx="19.5" ry="6"/>
<ellipse transform="translate(1423.3,403.7) rotate(-19.4)" rx="17.3" ry="5.6"/>
</g>
<polyline points="654.4,1194.7 664.8,1263.9" fill="none" stroke="#000" stroke-width="2.2"/>
<polyline points="687.6,1189.8 692.1,1219.8" fill="none" stroke="#000" stroke-width="2.2"/>
<polyline points="720.7,1185 731.1,1254.2" fill="none" stroke="#000" stroke-width="2.2"/>
<polyline points="753.9,1180.1 758.4,1210.1" fill="none" stroke="#000" stroke-width="2.2"/>
<polyline points="787.1,1175.3 797.5,1244.5" fill="none" stroke="#000" stroke-width="2.2"/>
<polyline points="820.2,1170.4 824.8,1200.4" fill="none" stroke="#000" stroke-width="2.2"/>
<polyline points="853.4,1165.6 863.8,1234.8" fill="none" stroke="#000" stroke-width="2.2"/>
<polyline points="886.6,1160.7 891.1,1190.7" fill="none" stroke="#000" stroke-width="2.2"/>
<polyline points="919.8,1155.9 930.1,1225.1" fill="none" stroke="#000" stroke-width="2.2"/>
<polyline points="952.9,1151 957.4,1181" fill="none" stroke="#000" stroke-width="2.2"/>
<polyline points="986.1,1146.2 996.5,1215.4" fill="none" stroke="#000" stroke-width="2.2"/>
<polyline points="1019.3,1141.3 1023.8,1171.3" fill="none" stroke="#000" stroke-width="2.2"/>
<polyline points="1052.4,1136.5 1062.8,1205.7" fill="none" stroke="#000" stroke-width="2.2"/>
<polyline points="1085.6,1131.6 1090.1,1161.6" fill="none" stroke="#000" stroke-width="2.2"/>
<polyline points="1118.8,1126.8 1129.2,1196" fill="none" stroke="#000" stroke-width="2.2"/>
<polyline points="1152,1121.9 1156.5,1151.9" fill="none" stroke="#000" stroke-width="2.2"/>
<polyline points="1185.1,1117.1 1195.5,1186.3" fill="none" stroke="#000" stroke-width="2.2"/>
<polyline points="1218.3,1112.2 1222.8,1142.2" fill="none" stroke="#000" stroke-width="2.2"/>
<polyline points="1251.5,1107.3 1261.8,1176.5" fill="none" stroke="#000" stroke-width="2.2"/>
<polyline points="1284.6,1102.5 1289.1,1132.5" fill="none" stroke="#000" stroke-width="2.2"/>
<polyline points="1322.2,1128.4 1332.6,1197.6" fill="none" stroke="#000" stroke-width="2.2"/>
<polyline points="1355.3,1123.5 1359.8,1153.5" fill="none" stroke="#000" stroke-width="2.2"/>
<polyline points="1388.5,1118.7 1398.9,1187.9" fill="none" stroke="#000" stroke-width="2.2"/>
<polyline points="1421.6,1113.8 1426.1,1143.8" fill="none" stroke="#000" stroke-width="2.2"/>
<polyline points="1454.8,1109 1465.1,1178.2" fill="none" stroke="#000" stroke-width="2.2"/>
<polyline points="1487.9,1104.1 1492.4,1134.1" fill="none" stroke="#000" stroke-width="2.2"/>
<polyline points="1521,1099.3 1531.4,1168.5" fill="none" stroke="#000" stroke-width="2.2"/>
<polyline points="1554.2,1094.4 1558.7,1124.4" fill="none" stroke="#000" stroke-width="2.2"/>
<polyline points="1587.3,1089.5 1597.7,1158.7" fill="none" stroke="#000" stroke-width="2.2"/>
<polyline points="1620.5,1084.7 1625,1114.7" fill="none" stroke="#000" stroke-width="2.2"/>
<polyline points="1653.6,1079.8 1664,1149" fill="none" stroke="#000" stroke-width="2.2"/>
<polyline points="1686.7,1075 1691.2,1105" fill="none" stroke="#000" stroke-width="2.2"/>
<polyline points="1719.9,1070.1 1730.3,1139.3" fill="none" stroke="#000" stroke-width="2.2"/>
<polyline points="1753,1065.2 1757.5,1095.2" fill="none" stroke="#000" stroke-width="2.2"/>
<polyline points="1786.2,1060.4 1796.5,1129.6" fill="none" stroke="#000" stroke-width="2.2"/>
<polyline points="1819.3,1055.5 1823.8,1085.5" fill="none" stroke="#000" stroke-width="2.2"/>
<polyline points="1852.4,1050.7 1862.8,1119.9" fill="none" stroke="#000" stroke-width="2.2"/>
<polyline points="1885.6,1045.8 1890.1,1075.8" fill="none" stroke="#000" stroke-width="2.2"/>
<polyline points="1918.7,1041 1929.1,1110.2" fill="none" stroke="#000" stroke-width="2.2"/>
<polyline points="1951.9,1036.1 1956.4,1066.1" fill="none" stroke="#000" stroke-width="2.2"/>
<path d="M358.2,780.5 L2102.9,400.7 L2540,277.1  C2551.5,273.8 2562.9,270.5 2574.4,267.2 C2583,264.7 2591.8,262.6 2600.2,259.5 C2607.6,256.7 2614.7,253.1 2621.8,249.6 C2627.6,246.8 2633.4,243.9 2639,240.6 C2643.5,238 2647.7,235.1 2651.9,232 C2656.3,228.7 2660.6,225.2 2664.8,221.6 C2668,218.8 2671.4,216.1 2674.2,213 C2677.1,209.8 2680,206.5 2682,202.7 C2684.4,198.2 2685.5,193 2687.3,188.1" fill="none" stroke="#000" stroke-width="2.2"/>
<path d="M367.9,838.6 L517.9,807.5  C540.5,804.8 563.1,799.6 585.7,799.3 C603.8,799.1 622.5,801.3 640,806 C660.6,811.5 679.9,822.3 700,830 C719.9,837.6 739.4,847.4 760,852 C782.7,857.1 806.7,859.1 830,859.3 C847.9,859.4 865.8,855.5 883.6,853 C909.1,849.4 934.5,845 960,841 L1660,718.2 L1741.4,703.9 L1727.1,596.1 L1748.2,593.2 L1767.1,716.4" fill="none" stroke="#000" stroke-width="2.2"/>
<polyline points="1748.2,593.2 1782.1,714.6" fill="none" stroke="#000" stroke-width="2.2"/>
<polyline points="1777.9,584.3 1782.1,714.6" fill="none" stroke="#000" stroke-width="2.2"/>
<polyline points="1777.9,584.3 1799.3,712.9" fill="none" stroke="#000" stroke-width="2.2"/>
<path d="M1777.9,584.3  C1779.1,579.5 1778.6,573.8 1781.4,570 C1787,562.4 1795,555.6 1802.9,550 C1809.3,545.4 1816.8,541.9 1824.3,539.3 C1835.8,535.3 1848.1,533.1 1860,530 L2300,418.4  C2333.3,409.9 2366.7,401.5 2400,393 C2418.7,388.2 2437.3,383.1 2456,378.6 C2463.6,376.8 2471.4,373.8 2479,374.2 C2487.8,374.7 2498.2,376.4 2505.3,381.4 C2515.7,388.8 2523.3,401 2531.6,411.4 C2535.8,416.7 2539.7,422.4 2542.9,428.3 C2547.8,437.2 2551.6,446.8 2556,456 L2645,640  C2649.3,649 2654.2,657.8 2658,667 C2661.5,675.5 2664.6,684.2 2667,693 C2669.4,701.8 2671.2,710.9 2672.3,720 C2673.3,728.3 2673.4,736.7 2673.5,745 C2673.5,752.3 2672.9,759.6 2672.6,766.9" fill="none" stroke="#000" stroke-width="2.2"/>
<polyline points="2540.5,495 2579.5,570 2635,675.6 2633.2,686.4 2529.4,686.4 2490,691.4 2192.1,730.7" fill="none" stroke="#000" stroke-width="2.2"/>
<polyline points="2194.6,762.9 2490,723.6 2529.4,719.7 2648.6,719.7 2651.1,766.9" fill="none" stroke="#000" stroke-width="2.2"/>
<polyline points="2377.9,705.7 2227.9,741.4 2377.9,739.6" fill="none" stroke="#000" stroke-width="2.2"/>
<path d="M2597.4,377.6 C2599.2,371.6 2602.6,365.1 2606.8,360.7 C2609.4,357.9 2614.2,355.6 2618,356 C2626.7,356.9 2636.5,359.9 2644.4,364.4 C2654.7,370.2 2665.4,377.7 2672.6,387 C2681,397.8 2687.8,411.5 2691.4,424.6 C2693.5,432.2 2691.7,441.3 2689.5,449 C2687.3,457 2683.6,465.6 2678.2,471.6 C2673.9,476.4 2666.6,480 2660.3,481.4 C2655.3,482.5 2648.7,481.7 2644.4,479.1 C2639,475.9 2634.5,469.8 2631.2,464.1 C2621.9,447.9 2614.8,430.3 2606.8,413.3 C2603.6,406.4 2599.3,399.8 2597.4,392.6 C2596.2,387.9 2596,382.2 2597.4,377.6Z" fill="none" stroke="#000" stroke-width="2.2"/>
<path d="M2898.2,218.4 C2881.5,249.4 2862.3,279.4 2848,311.5 C2833.6,343.8 2822.6,377.8 2812.2,411.7 C2804.3,437.3 2798.4,463.7 2793,490 C2787.6,516.5 2784.2,543.3 2780,570 C2776.3,593.3 2771.9,616.5 2769.4,640 C2764.7,684 2762.1,728.2 2758.5,772.3" fill="none" stroke="#000" stroke-width="2.2"/>
<path d="M2749.6,888.7 C2746.7,919.1 2743.9,949.6 2741,980 C2738.4,1006.7 2735.5,1033.3 2733,1060 C2730.6,1086.6 2728.9,1113.4 2726.3,1140 C2724.4,1160 2721.3,1180 2719.5,1200 C2718.3,1214 2717.4,1228 2717.2,1242 C2717,1258 2717.7,1274 2718.5,1290 C2720,1320 2722,1350 2724,1380 C2726.2,1413.3 2728.5,1446.7 2731,1480 C2733.4,1512.3 2734.4,1544.9 2738.8,1576.8 C2740.7,1590.5 2744.6,1604.3 2750,1617 C2755,1628.7 2761.7,1640.4 2770,1650 C2778.4,1659.7 2789,1668.2 2800,1675 C2810.7,1681.6 2823.3,1685 2835,1690 L3110.8,1759.5" fill="none" stroke="#000" stroke-width="2.2"/>
<polyline points="2629.6,748 2644,766.9 2760.3,772.3 2780.7,757.3" fill="none" stroke="#000" stroke-width="2.2"/>
<polyline points="2617.1,899.4 2636.8,885.1 2751.4,888.7 2767.5,908.3" fill="none" stroke="#000" stroke-width="2.2"/>
<path d="M2639.7,885.1 L2629.6,1003.2  C2624.7,1009.5 2621.3,1017.6 2615,1022 C2607,1027.7 2596.5,1031.6 2586.7,1033.7 C2578.2,1035.6 2568.9,1033.9 2560,1034 L2490,1030.3 L1771.4,984.3" fill="none" stroke="#000" stroke-width="2.2"/>
<path d="M265,1565 L696.4,1686.4  C740.9,1697.9 784.8,1712.7 830,1720.8 C889.1,1731.4 949.3,1736.8 1009.2,1742.3 C1062.8,1747.3 1116.7,1752.8 1170.5,1752.3 C1236.2,1751.6 1302.1,1745.5 1367.6,1738.7 C1437.1,1731.4 1506.6,1721.7 1575.5,1710 C1630.7,1700.6 1685.2,1687 1740,1675.5 C1796,1663.7 1851.9,1651.5 1908,1640 C1944.3,1632.5 1980.3,1621.9 2017.1,1618.6 C2100,1611.2 2183.8,1607.7 2267.1,1607.9 C2341.4,1608.1 2415.9,1614.2 2490,1619.8 C2515.2,1621.7 2540.1,1628.9 2565.2,1630.5 C2576.8,1631.3 2589.1,1630.4 2600,1627 C2611.8,1623.3 2623.5,1616.7 2633.2,1609 C2643,1601.2 2652.8,1591.4 2658.3,1580.4 C2664.7,1567.6 2667.7,1551.9 2669,1537.4 C2670.4,1521.8 2667.3,1505.8 2666.5,1490 L2644,1140 L2661.1,885.1" fill="none" stroke="#000" stroke-width="2.2"/>
<polyline points="257.1,1648.9 467.9,1710 729.4,1783.5" fill="none" stroke="#000" stroke-width="2.2"/>
<path d="M1130,1834.7 C1186.7,1832.8 1243.4,1832.5 1300,1829 C1350.1,1825.9 1400.4,1822.5 1450,1815 C1520.4,1804.3 1590.1,1788.3 1660,1774.5 C1716.7,1763.3 1773.3,1751.1 1830,1740 C1882.8,1729.6 1935.5,1718.1 1988.6,1710 C2035.5,1702.8 2082.7,1697.4 2130,1694 C2175.6,1690.7 2221.4,1690 2267.1,1690 C2311.4,1690 2355.8,1691.3 2400,1694 C2430.1,1695.9 2460.1,1699.6 2490,1703.8 C2525.9,1708.8 2562,1713.9 2597.4,1721.7 C2621.7,1727 2646.9,1732.9 2669,1743.2 C2680.3,1748.4 2690.9,1758.3 2697.7,1768.3 C2702.2,1775 2703,1785 2703,1793.3 C2703,1800.5 2699.5,1807.6 2697.7,1814.8 L2663.1,1925" fill="none" stroke="#000" stroke-width="2.2"/>
<path d="M2725.5,1944.8 L2771,1803 C2779,1778.2 2810.9,1759.4 2840,1766.5 L3092.9,1828.3" fill="none" stroke="#000" stroke-width="2.2"/>
<path d="M1606.8,1054 L1660,1045 L1808.2,1021.1 L2490,1065.7 L2580,1070.8 Q2626,1073.5 2627.3,1118 L2627.8,1140 L2644.7,1526" fill="none" stroke="#000" stroke-width="2.2"/>
<polyline points="1594.3,1005.7 1771.4,984.3" fill="none" stroke="#000" stroke-width="2.2"/>
<polyline points="1631.8,977.1 1635.4,1000.4" fill="none" stroke="#000" stroke-width="2.2"/>
<polyline points="1768.2,960.4 1771.4,984.3" fill="none" stroke="#000" stroke-width="2.2"/>
<polyline points="1635.4,1000.4 1702.9,967.1 1771.4,984.3" fill="none" stroke="#000" stroke-width="2.2"/>
<polyline points="2135,1007.5 1942.1,1012.9 2138.6,1042.1" fill="none" stroke="#000" stroke-width="2.2"/>
<polygon points="614.3,1457.9 676.8,1456.1 678.6,1500.7 706.1,1499.6 709.6,1587.5 618.9,1591.1" fill="#dededd" stroke="#9b9b9b" stroke-width="2"/>
<polygon points="780.4,1500.7 868.6,1497.1 872.1,1597.1 783.9,1600.7" fill="#dededd" stroke="#9b9b9b" stroke-width="2"/>
<polygon points="872.9,1355 998.9,1348.9 1001.1,1390.7 1090,1385.7 1097.9,1537.5 936.1,1545.4 933.9,1500 880.4,1502.9" fill="#dededd" stroke="#9b9b9b" stroke-width="2"/>
<polygon points="1375.7,1197.1 1712.5,1147.1 1748.2,1265 1774.3,1423.9 1683.2,1437.5 1666.1,1318.6 1565.7,1342.9 1599.6,1496.4 1595,1555.4 1527.5,1569.6 1477.1,1372.9 1421.8,1385.7" fill="#dededd" stroke="#9b9b9b" stroke-width="2"/>
<polygon points="1610.4,1482.1 1699.3,1482.1 1699.3,1664.3 1610.4,1664.3" fill="#dededd" stroke="#9b9b9b" stroke-width="2"/>
<polygon points="1826.8,1346.1 1935,1356.1 1917.1,1541.1 1808.9,1530.4" fill="#dededd" stroke="#9b9b9b" stroke-width="2"/>
<polygon points="2042.9,1466.8 2125,1475 2116.1,1565.7 2033.9,1557.9" fill="#dededd" stroke="#9b9b9b" stroke-width="2"/>
<polygon points="2228.9,1328.2 2355.4,1335.4 2340.4,1597.1 2235,1591.8 2245,1430.4 2223.2,1429.3" fill="#dededd" stroke="#9b9b9b" stroke-width="2"/>
<polygon points="2419.6,1171.4 2609.9,1154.3 2644.7,1526 2557,1534.6 2549.1,1448.6 2445.7,1458.6" fill="#dededd" stroke="#9b9b9b" stroke-width="2"/>
<polygon points="2765,1098.1 2849.8,1106 2838,1236 2753.9,1228.4" fill="#dededd" stroke="#9b9b9b" stroke-width="2"/>
<polygon points="2865.2,1230.6 2950.1,1237.7 2938.3,1367 2853.4,1359.5" fill="#dededd" stroke="#9b9b9b" stroke-width="2"/>
<polygon points="2761,1435.4 2889.2,1415.7 2893.9,1447.9 2980.5,1435.4 2999.1,1557.1 2784.7,1590" fill="#dededd" stroke="#9b9b9b" stroke-width="2"/>
<polygon points="1100,1859 1161.5,1858.7 1164,1953 1100,1954" fill="#dededd" stroke="#9b9b9b" stroke-width="2"/>
<polygon points="1241.1,1890.3 1366.5,1867.7 1383.1,1960.9 1257.2,1983.1" fill="#dededd" stroke="#9b9b9b" stroke-width="2"/>
<polygon points="1459.7,1856.2 1556.9,1831.9 1574.8,1903.5 1478,1927.9" fill="#dededd" stroke="#9b9b9b" stroke-width="2"/>
<polygon points="1757.8,1784.2 1854.6,1759.5 1872.9,1831.1 1775.8,1855.2" fill="#dededd" stroke="#9b9b9b" stroke-width="2"/>
<polygon points="1934.2,1735.1 2032.8,1720.8 2044.2,1793.2 1945.7,1808.6" fill="#dededd" stroke="#9b9b9b" stroke-width="2"/>
<polygon points="2130.6,1708 2257.8,1714.7 2253.9,1808.9 2126,1803.9" fill="#dededd" stroke="#9b9b9b" stroke-width="2"/>
<polygon points="2380.4,1708 2526.9,1726.8 2515.8,1821.1 2369,1803.9" fill="#dededd" stroke="#9b9b9b" stroke-width="2"/>
<polygon points="2559.2,1788.1 2657.4,1806.1 2644.1,1878.5 2545.6,1860.5" fill="#dededd" stroke="#9b9b9b" stroke-width="2"/>
<polygon points="2782.1,1824 2896.1,1845.1 2880.7,1928.6 2766.7,1907.1" fill="#dededd" stroke="#9b9b9b" stroke-width="2"/>
<polygon points="1839,569 1974.5,549.5 1990.4,655.7 1855.7,676.1" fill="#dededd" stroke="#9b9b9b" stroke-width="2"/>
<polygon points="2378.6,548.2 2455.4,548.2 2455.4,630.7 2378.6,630.7" fill="#dededd" stroke="#9b9b9b" stroke-width="2"/>
<polygon points="329.3,1001.1 333.7,1000.3 338.1,999.5 342.6,998.7 347,998 351.4,997.2 355.8,996.4 360.2,995.6 364.7,994.8 369.1,994 373.5,993.2 377.9,992.5 382.3,991.7 386.7,990.9 391.2,990.1 395.6,989.3 400,988.5 425,984 450,979.5 475,975 500,970.4 525,965.9 550,961.4 575,956.9 600,952.3 625,947.8 650,943.3 675,938.8 700,934.3 725,929.8 750,925.3 775,920.8 800,916.3 825,911.8 850,907.3 875,902.8 900,898.3 924.9,893.8 949.9,889.2 974.9,884.7 999.9,880.2 1024.9,875.7 1049.9,871.3 1074.9,866.8 1099.9,862.4 1124.9,858.1 1149.9,853.8 1175,849.5 1200,845.3 1225,841.1 1249.9,836.9 1274.9,832.8 1299.8,828.6 1324.8,824.5 1349.8,820.4 1374.8,816.3 1399.8,812.3 1424.7,808.3 1449.8,804.4 1474.8,800.5 1499.8,796.8 1524.8,793.1 1549.9,789.5 1574.9,786.1 1600,782.7 1624.9,779.5 1649.9,776.3 1674.8,773.3 1699.8,770.3 1724.8,767.5 1749.8,764.7 1774.8,762 1799.8,759.3 1824.8,756.7 1849.8,754.2 1874.8,751.7 1899.9,749.3 1924.9,747 1949.9,744.7 1975,742.4 2000,740.2 2012,739.2 2024,738.3 2035.9,737.5 2047.9,736.8 2059.9,736.1 2072,735.6 2084,735 2096,734.5 2108,734.1 2120,733.6 2132,733.2 2144,732.7 2156.1,732.3 2168.1,731.8 2180.1,731.3 2192.1,730.7 2194.6,783.2 2182.4,783.8 2170.3,784.3 2158.1,784.9 2145.9,785.4 2133.7,785.8 2121.6,786.3 2109.4,786.8 2097.2,787.3 2085.1,787.8 2072.9,788.4 2060.7,789 2048.6,789.7 2036.4,790.4 2024.3,791.2 2012.1,792.2 2000,793.2 1975,795.5 1949.9,797.8 1924.9,800.1 1899.9,802.5 1874.8,804.9 1849.8,807.4 1824.8,810 1799.8,812.6 1774.8,815.3 1749.8,818.1 1724.8,820.9 1699.8,823.8 1674.8,826.8 1649.9,829.9 1624.9,833 1600,836.3 1574.9,839.7 1549.9,843.2 1524.8,846.8 1499.8,850.5 1474.8,854.3 1449.8,858.2 1424.8,862.1 1399.8,866.1 1374.8,870.2 1349.8,874.3 1324.8,878.4 1299.9,882.6 1274.9,886.8 1249.9,890.9 1225,895.1 1200,899.3 1175,903.5 1149.9,907.8 1124.9,912.1 1099.9,916.4 1074.9,920.7 1049.9,925.1 1024.9,929.6 999.9,934 974.9,938.5 949.9,943 924.9,947.4 899.9,951.9 875,956.4 850,960.9 825,965.4 800,969.9 775,974.4 750,978.9 725,983.4 700,987.9 675,992.5 650,997 625,1001.6 600,1006.1 575,1010.7 550,1015.2 525,1019.8 500,1024.4 475,1028.9 450,1033.5 425,1038 400,1042.6 396.2,1043.3 392.3,1044 388.5,1044.7 384.6,1045.4 380.8,1046.1 377,1046.8 373.1,1047.5 369.3,1048.2 365.5,1048.9 361.6,1049.7 357.8,1050.4 353.9,1051.1 350.1,1051.8 346.3,1052.5 342.4,1053.2 338.6,1053.9" fill="#fbbf4b" stroke="#000" stroke-width="1.6"/>
<polygon points="358.9,1141.1 361.5,1140.7 364,1140.3 366.6,1139.9 369.2,1139.5 371.8,1139.1 374.3,1138.7 376.9,1138.4 379.5,1138 382,1137.6 384.6,1137.2 387.2,1136.8 389.7,1136.4 392.3,1135.9 394.9,1135.5 397.4,1135.1 400,1134.6 425,1130 450,1125.4 475,1120.8 500,1116.2 525,1111.6 550,1107 575,1102.3 600,1097.7 625,1093 650,1088.4 675,1083.7 700,1079.1 725,1074.5 750,1069.9 775,1065.3 800,1060.8 825,1056.3 850,1051.7 875,1047.2 899.9,1042.7 924.9,1038.2 949.9,1033.7 974.9,1029.2 999.9,1024.7 1024.9,1020.2 1049.9,1015.8 1074.9,1011.3 1099.9,1006.9 1124.9,1002.6 1149.9,998.2 1175,993.9 1200,989.6 1225,985.3 1249.9,981 1274.9,976.7 1299.9,972.3 1324.8,968 1349.8,963.7 1374.8,959.4 1399.7,955.1 1424.7,951 1449.7,946.8 1474.7,942.8 1499.8,938.9 1524.8,935.1 1549.8,931.4 1574.9,927.8 1600,924.4 1624.9,921.2 1649.8,918.1 1674.8,915.1 1699.8,912.2 1724.7,909.4 1749.7,906.7 1774.7,904.2 1799.7,901.7 1824.8,899.2 1849.8,896.8 1874.8,894.5 1899.9,892.3 1924.9,890 1949.9,887.8 1975,885.7 2000,883.5 2012.4,882.5 2024.7,881.6 2037.1,880.7 2049.5,879.9 2061.9,879.2 2074.3,878.6 2086.6,878 2099,877.4 2111.4,876.8 2123.8,876.3 2136.2,875.8 2148.6,875.2 2161,874.7 2173.4,874.1 2185.8,873.5 2198.2,872.9 2201.1,925.4 2188.5,926.1 2176,926.7 2163.4,927.4 2150.8,927.9 2138.2,928.5 2125.6,929.1 2113.1,929.7 2100.5,930.3 2087.9,930.9 2075.3,931.6 2062.8,932.3 2050.2,933 2037.6,933.9 2025.1,934.8 2012.5,935.8 2000,936.9 1975,939.2 1949.9,941.6 1924.9,944 1899.9,946.4 1874.8,949 1849.8,951.5 1824.8,954.1 1799.8,956.8 1774.8,959.5 1749.8,962.3 1724.8,965.2 1699.8,968.2 1674.8,971.2 1649.9,974.3 1624.9,977.5 1600,980.8 1574.9,984.2 1549.9,987.7 1524.8,991.4 1499.8,995.1 1474.8,998.9 1449.8,1002.8 1424.8,1006.8 1399.8,1010.8 1374.8,1014.8 1349.8,1019 1324.8,1023.1 1299.9,1027.3 1274.9,1031.4 1249.9,1035.6 1225,1039.8 1200,1044 1175,1048.2 1149.9,1052.5 1124.9,1056.8 1099.9,1061.1 1074.9,1065.4 1049.9,1069.8 1024.9,1074.3 999.9,1078.7 974.9,1083.1 949.9,1087.6 924.9,1092.1 900,1096.6 875,1101 850,1105.5 825,1110 800,1114.4 775,1118.8 750,1123.3 725,1127.7 700,1132.1 675,1136.6 650,1141 624.9,1145.4 599.9,1149.9 574.9,1154.3 549.9,1158.8 524.9,1163.3 499.9,1167.8 475,1172.3 450,1176.8 425,1181.3 400,1185.9 398.2,1186.2 396.4,1186.6 394.6,1187 392.8,1187.4 391,1187.8 389.2,1188.3 387.4,1188.7 385.7,1189.2 383.9,1189.7 382.1,1190.1 380.3,1190.6 378.5,1191.1 376.8,1191.5 375,1192 373.2,1192.5 371.4,1192.9" fill="#fbbf4b" stroke="#000" stroke-width="1.6"/>
<polygon points="2651.1,768.7 2672.6,768.7 2661.9,885.1 2639.7,885.1" fill="#f28100" stroke="none" stroke-width="0"/>
<g stroke="#000" stroke-width="2" stroke-dasharray="9,7" fill="none">
<polyline points="2651.1,768.7 2639.7,885.1" fill="none" stroke="#000" stroke-width="2"/>
<polyline points="2672.6,768.7 2661.9,885.1" fill="none" stroke="#000" stroke-width="2"/>
<polyline points="2758.5,772.3 2749.6,888.7" fill="none" stroke="#000" stroke-width="2"/>
</g>
<path d="M246.4,1097.9 C297.6,1088.7 348.8,1079.5 400,1070.3 C533.3,1046.3 666.6,1022 800,998.1 C933.3,974.2 1066.5,949.5 1200,927 C1333.1,904.6 1466.2,881.2 1600,863.6 C1732.9,846.1 1866.3,830.4 2000,821.6 C2163,810.9 2326.7,807.1 2490,805.2 C2579.5,804.1 2669.1,808.7 2758.5,812.7 C2861.5,817.2 2964.3,824.7 3067.2,830.7" fill="none" stroke="#000" stroke-width="6.8"/>
<path d="M254.3,1132.5 C302.9,1123.7 351.4,1114.8 400,1106.1 C533.3,1082.1 666.7,1058.3 800,1034.4 C933.3,1010.5 1066.4,985 1200,962.5 C1333.1,940.1 1466.2,917.4 1600,899.9 C1732.9,882.5 1866.3,866.4 2000,857.6 C2163,846.9 2326.7,843.2 2490,841.2 C2579.5,840.1 2669.1,844.4 2758.5,848.2 C2860.6,852.5 2962.6,859.7 3064.6,865.4" fill="none" stroke="#000" stroke-width="6.8"/>
<rect x="1380" y="688.6" width="58.9" height="58.5" fill="#0057a0"/>
<text x="1409.5" y="733.6" font-size="41.5" fill="#fff" text-anchor="middle">P</text>
<rect x="836.4" y="903.9" width="58.6" height="58.4" fill="#2b2660"/>
<path d="M851,954.1 L851,912.9 M838.7,927.2 L851,912.5 L863.3,927.2" stroke="#fff" stroke-width="4.2" fill="none"/>
<text x="858.8" y="954.1" font-size="35" fill="#fff" textLength="34.6" lengthAdjust="spacingAndGlyphs">38</text>
<rect x="848.9" y="1042.5" width="58.6" height="58.4" fill="#2b2660"/>
<path d="M863.5,1092.7 L863.5,1051.5 M851.2,1065.8 L863.5,1051.1 L875.8,1065.8" stroke="#fff" stroke-width="4.2" fill="none"/>
<text x="871.3" y="1092.7" font-size="35" fill="#fff" textLength="34.6" lengthAdjust="spacingAndGlyphs">38</text>
<g transform="translate(1789.45,744.4) rotate(-7.2)">
<rect x="-28.8" y="-28.8" width="57.6" height="57.6" fill="#2b2660"/>
<path d="M0,-21 L0,21 M-15.5,-8 L0,-22.5 L15.5,-8 M-15.5,8 L0,22.5 L15.5,8" stroke="#fff" stroke-width="5" fill="none"/>
</g>
<polygon points="1642.5,753.9 1707.5,745 1711.8,783.2 1646,791.4" fill="#dcdcdc" stroke="#000" stroke-width="1.6"/>
<polyline points="1642.5,753.9 1711.8,783.2" fill="none" stroke="#000" stroke-width="1.6"/>
<polyline points="1707.5,745 1646,791.4" fill="none" stroke="#000" stroke-width="1.6"/>
<polygon points="2481.4,464.4 2515,446.6 2546.9,504.2 2513.3,522" fill="#dcdcdc" stroke="#000" stroke-width="1.6"/>
<polyline points="2481.4,464.4 2546.9,504.2" fill="none" stroke="#000" stroke-width="1.6"/>
<polyline points="2515,446.6 2513.3,522" fill="none" stroke="#000" stroke-width="1.6"/>
<polygon points="1446.5,1030.8 1591.3,1008.3 1603.1,1078.2 1456.3,1101.6" fill="#dcdcdc" stroke="#a50e3c" stroke-width="8.2"/>
<polygon points="1551.4,1014.6 1594.3,1007.5 1596.1,1032.5 1555,1038.9" fill="#e2e2e2" stroke="#000" stroke-width="1.8"/>
<polyline points="1551.4,1014.6 1596.1,1032.5" fill="none" stroke="#000" stroke-width="1.8"/>
<polyline points="1594.3,1007.5 1555,1038.9" fill="none" stroke="#000" stroke-width="1.8"/>
<rect x="2530.3" y="486.6" width="58.6" height="58.3" fill="#0057a0"/>
<text x="2535.3" y="528.3" font-size="37" fill="#fff" textLength="51" lengthAdjust="spacingAndGlyphs" font-weight="bold">BUS</text>
<rect x="2593.2" y="486.6" width="32" height="32" fill="#0057a0"/>
<polygon points="2608.5,490.4 2614.3,490.4 2614.3,516.7 2607.7,516.7 2607.7,498 2600.8,502.2 2600.8,496.3" fill="#fff" stroke="none" stroke-width="0"/>
<rect x="2526.6" y="987.2" width="58.8" height="58.8" fill="#2b2660"/>
<text x="2529" y="1004.1" font-size="18.7" fill="#fff" textLength="54.6" lengthAdjust="spacingAndGlyphs">Automat</text>
<rect x="2551.1" y="1007.8" width="16.3" height="24.2" fill="#fff"/>
<rect x="2562.3" y="1017.2" width="16.5" height="24.6" fill="#fff"/>
<text x="2563.1" y="1017.7" font-size="10.5" fill="#2b2660" text-anchor="middle" font-weight="bold">1</text>
<text x="2573.1" y="1029" font-size="12" fill="#2b2660" text-anchor="middle" font-weight="bold">2</text>
<rect x="2552.9" y="1028.3" width="2.4" height="2.1" fill="#2b2660"/>
<rect x="2556.3" y="1028.3" width="2.4" height="2.1" fill="#2b2660"/>
<rect x="2559.7" y="1028.3" width="2.4" height="2.1" fill="#2b2660"/>
<rect x="2564.3" y="1037.9" width="2.4" height="2.6" fill="#2b2660"/>
<rect x="2567.7" y="1037.9" width="2.4" height="2.6" fill="#2b2660"/>
<rect x="2571.2" y="1037.9" width="2.4" height="2.6" fill="#2b2660"/>
<rect x="2574.6" y="1037.9" width="2.4" height="2.6" fill="#2b2660"/>
<polyline points="2561.6,688.2 2561.6,719.7" fill="none" stroke="#000" stroke-width="1.8"/>
<polyline points="2568,688.2 2568,719.7" fill="none" stroke="#000" stroke-width="1.8"/>
<polyline points="2575.9,688.2 2575.9,719.7" fill="none" stroke="#000" stroke-width="1.8"/>
<polyline points="2583.8,688.2 2583.8,719.7" fill="none" stroke="#000" stroke-width="1.8"/>
<polyline points="2603.9,688.2 2603.9,719.7" fill="none" stroke="#000" stroke-width="1.8"/>
<polyline points="2610.7,688.2 2610.7,719.7" fill="none" stroke="#000" stroke-width="1.8"/>
<polyline points="2617.8,688.2 2617.8,719.7" fill="none" stroke="#000" stroke-width="1.8"/>
<polyline points="2626,688.2 2626,719.7" fill="none" stroke="#000" stroke-width="1.8"/>
<polyline points="2580,703.5 2620.7,703.5" fill="none" stroke="#000" stroke-width="2"/>
<polygon points="2565.2,703.5 2586.7,693.5 2586.7,713.2" fill="#000" stroke="none" stroke-width="0"/>
<polygon points="2941.6,1813.2 2958,1783.5 2992,1783.5 3008.6,1813.2 2992,1842.8 2958,1842.8" fill="#951b81" stroke="none" stroke-width="0"/>
<text x="2974.8" y="1826.5" font-size="37" fill="#fff" textLength="50" lengthAdjust="spacingAndGlyphs" text-anchor="middle" font-weight="bold">SEV</text>
<circle cx="3159.5" cy="1945.5" r="58.6" fill="#808080" stroke="#1a1a1a" stroke-width="2.2"/>
<polygon points="3102.2,1945.5 3138,1891 3138,1927.6 3213.3,1927.6 3213.3,1962.7 3138,1962.7 3138,1999.8" fill="#fcfcfc" stroke="#1a1a1a" stroke-width="1.8"/>
<polygon points="3172.8,1929.4 3212.8,1929.4 3212.8,1935.6 3185,1954 3213.3,1954 3213.3,1960.9 3172.8,1960.9 3172.8,1954.8 3200.5,1936.2 3172.8,1936.2" fill="#111" stroke="none" stroke-width="0"/>
<rect x="2893" y="2154.4" width="82.6" height="82.6" fill="#2b2660"/>
<text x="2897.2" y="2174.8" font-size="21.6" fill="#fff" textLength="75.4" lengthAdjust="spacingAndGlyphs">Automat</text>
<text x="2896.9" y="2233.5" font-size="20.9" fill="#fff" textLength="75.8" lengthAdjust="spacingAndGlyphs">Fernverkehr</text>
<rect x="2919.2" y="2177.2" width="17.6" height="26" fill="#fff"/>
<rect x="2931.9" y="2187.8" width="17.2" height="25.7" fill="#fff"/>
<text x="2932.3" y="2188.6" font-size="13" fill="#2b2660" text-anchor="middle" font-weight="bold">1</text>
<text x="2942.9" y="2199.7" font-size="12.6" fill="#2b2660" text-anchor="middle" font-weight="bold">2</text>
<rect x="2921.3" y="2198.9" width="2.5" height="2.5" fill="#2b2660"/>
<rect x="2925" y="2198.9" width="2.5" height="2.5" fill="#2b2660"/>
<rect x="2928.6" y="2198.9" width="2.5" height="2.5" fill="#2b2660"/>
<rect x="2933.5" y="2209.9" width="2.7" height="2.5" fill="#2b2660"/>
<rect x="2937.4" y="2209.9" width="2.7" height="2.5" fill="#2b2660"/>
<rect x="2941.2" y="2209.9" width="2.7" height="2.5" fill="#2b2660"/>
<rect x="2945.1" y="2209.9" width="2.7" height="2.5" fill="#2b2660"/>
<rect x="2987.9" y="2154.4" width="82.6" height="82.6" fill="#2b2660"/>
<text x="2992.1" y="2174.8" font-size="21.6" fill="#fff" textLength="75.4" lengthAdjust="spacingAndGlyphs">Automat</text>
<text x="2991.8" y="2233.5" font-size="20.9" fill="#fff" textLength="73.4" lengthAdjust="spacingAndGlyphs">Nahverkehr</text>
<rect x="3014.1" y="2177.2" width="17.6" height="26" fill="#fff"/>
<rect x="3026.8" y="2187.8" width="17.2" height="25.7" fill="#fff"/>
<text x="3027.2" y="2188.6" font-size="13" fill="#2b2660" text-anchor="middle" font-weight="bold">1</text>
<text x="3037.8" y="2199.7" font-size="12.6" fill="#2b2660" text-anchor="middle" font-weight="bold">2</text>
<rect x="3016.2" y="2198.9" width="2.5" height="2.5" fill="#2b2660"/>
<rect x="3019.9" y="2198.9" width="2.5" height="2.5" fill="#2b2660"/>
<rect x="3023.5" y="2198.9" width="2.5" height="2.5" fill="#2b2660"/>
<rect x="3028.4" y="2209.9" width="2.7" height="2.5" fill="#2b2660"/>
<rect x="3032.3" y="2209.9" width="2.7" height="2.5" fill="#2b2660"/>
<rect x="3036.1" y="2209.9" width="2.7" height="2.5" fill="#2b2660"/>
<rect x="3040" y="2209.9" width="2.7" height="2.5" fill="#2b2660"/>
<rect x="3082.1" y="2154.4" width="82.5" height="82.5" fill="#0057a0"/>
<text x="3123.3" y="2215.4" font-size="55" fill="#fff" textLength="30" lengthAdjust="spacingAndGlyphs" text-anchor="middle">P</text>
<rect x="3176.4" y="2154.4" width="82.5" height="82.5" fill="#0057a0"/>
<text x="3183.5" y="2211.8" font-size="50" fill="#fff" textLength="68.5" lengthAdjust="spacingAndGlyphs" font-weight="bold">BUS</text>
<rect x="112.1" y="902.9" width="432.5" height="46.7" fill="#fff200" stroke="#555" stroke-width="1"/>
<polygon points="126.8,927.1 147,916.4 147,937.8" fill="#000" stroke="none" stroke-width="0"/>
<rect x="145" y="925" width="26.5" height="4.3" fill="#000"/>
<rect x="2838.4" y="896.5" width="382" height="46.9" fill="#fff200" stroke="#555" stroke-width="1"/>
<polygon points="3210.7,920.9 3190.5,910.2 3190.5,931.6" fill="#000" stroke="none" stroke-width="0"/>
<rect x="3166" y="918.8" width="26" height="4.3" fill="#000"/>
<rect x="118" y="1786" width="1010" height="214" fill="#fff"/>
<rect x="123.6" y="1791.2" width="999.2" height="50.8" fill="#0057a0"/>
<rect x="124.2" y="1849.3" width="998.2" height="145.2" fill="#fdfdfd" stroke="#5b8fca" stroke-width="1.3"/>
<rect x="123.6" y="1849" width="36.2" height="146" fill="#0057a0"/>
<polygon points="2940.1,50.6 3000.5,16.5 3007,69.6 2997.4,73.8 2992.8,32.9 2941.2,60.7" fill="#00a8e4" stroke="none" stroke-width="0"/>
<polygon points="2933.2,82 2942.9,77.8 2948.2,119.2 2999.3,92.1 3000.5,102.6 2940.1,135.5" fill="#005da8" stroke="none" stroke-width="0"/>
<text x="45" y="123" font-size="104" fill="#000" textLength="617" lengthAdjust="spacingAndGlyphs">Förtschendorf</text>
<text x="49" y="225.1" font-size="37" fill="#0a93dc" textLength="421.5" lengthAdjust="spacingAndGlyphs">www.bahnland-bayern.de</text>
<text x="49.5" y="266.8" font-size="37" fill="#0a93dc" letter-spacing="4.2">www.moby.bayern</text>
<text x="44" y="2215.4" font-size="60" fill="#000" textLength="562" lengthAdjust="spacingAndGlyphs">Serviceeinrichtungen:</text>
<text x="188.6" y="937.9" font-size="35" fill="#000" textLength="340" lengthAdjust="spacingAndGlyphs">Richtung Ludwigsstadt</text>
<text x="2848" y="931.6" font-size="35" fill="#000" textLength="304" lengthAdjust="spacingAndGlyphs">Richtung Lichtenfels</text>
<text x="2230.7" y="783.2" font-size="25" fill="#000" textLength="76" lengthAdjust="spacingAndGlyphs">Gleis 1</text>
<text x="2230.7" y="893.2" font-size="25" fill="#000" textLength="77" lengthAdjust="spacingAndGlyphs">Gleis 2</text>
<text transform="translate(2235.5,418.5) rotate(-14.5)" font-size="35" fill="#000" textLength="150" lengthAdjust="spacingAndGlyphs">Buchbach</text>
<text transform="translate(1634,1745.5) rotate(-11)" font-size="34" fill="#000" textLength="336" lengthAdjust="spacingAndGlyphs">Saalfelder Straße B 85</text>
<text transform="translate(2763,1726.5) rotate(12.8)" font-size="34" fill="#000" textLength="352" lengthAdjust="spacingAndGlyphs">Bamberger Straße B 85</text>
<text transform="translate(2694.5,1189) rotate(-85.9)" font-size="34" fill="#000" textLength="286" lengthAdjust="spacingAndGlyphs">Frankenwaldstraße</text>
<text x="179.5" y="1831.6" font-size="43.6" fill="#fff" textLength="327" lengthAdjust="spacingAndGlyphs" font-weight="bold">Bus-Anschlüsse:</text>
<polygon points="143,1860.7 149,1860.7 149,1887.6 142.2,1887.6 142.2,1868.5 134.8,1872.8 134.8,1866.7" fill="#fff" stroke="none" stroke-width="0"/>
<text x="185.5" y="1883.3" font-size="28.8" fill="#1d1d1b">1606 Pressig Bahnhof</text>
<text x="185.5" y="1916" font-size="28.8" fill="#1d1d1b">1606 Tettau (Oberfr) Festhalle</text>
<text x="185.5" y="1948.9" font-size="28.8" fill="#1d1d1b">1671 Pressig Schule</text>
<text x="185.5" y="1982.2" font-size="28.8" fill="#1d1d1b" textLength="927" lengthAdjust="spacingAndGlyphs">1671 Steinbach a.W. Rosenweg, Lauenhain, Ludwigsstadt Grundschule</text>
<text x="3159.5" y="2036.2" font-size="25" fill="#111" text-anchor="middle">Erhebung 2017</text>
<text x="3160" y="2064.8" font-size="25" fill="#111" text-anchor="middle">Aktualisierung 2025</text>
<text x="3019.5" y="2097.8" font-size="25" fill="#111" textLength="282" lengthAdjust="spacingAndGlyphs">Alle Angaben ohne Gewähr!</text>
<text x="3027" y="101" font-size="69" fill="#005da8" textLength="121" lengthAdjust="spacingAndGlyphs" font-weight="bold" font-style="italic">BEG</text>
<text x="3055.5" y="137" font-size="19.5" fill="#00a8e4" textLength="131.5" lengthAdjust="spacingAndGlyphs" font-weight="bold" font-style="italic">WIR BEWEGEN</text>
<text x="3033.5" y="157.9" font-size="19.5" fill="#005da8" textLength="225.5" lengthAdjust="spacingAndGlyphs" font-weight="bold" font-style="italic">DAS BAHNLAND BAYERN</text>
<circle cx="3032.8" cy="202.1" r="14.6" fill="none" stroke="#1a1a1a" stroke-width="2"/>
<text x="3033.2" y="211.6" font-size="26" fill="#1a1a1a" textLength="15.5" lengthAdjust="spacingAndGlyphs" text-anchor="middle">C</text>
<text x="3064.5" y="216.9" font-size="41.5" fill="#808080" textLength="92" lengthAdjust="spacingAndGlyphs">BAHN</text>
<text x="3160.5" y="217.4" font-size="43.5" fill="#72a00f" textLength="18" lengthAdjust="spacingAndGlyphs">S</text>
<text x="3180.5" y="216.9" font-size="36.5" fill="#72a00f" textLength="79" lengthAdjust="spacingAndGlyphs">TADT</text>
</svg>
</body></html>
